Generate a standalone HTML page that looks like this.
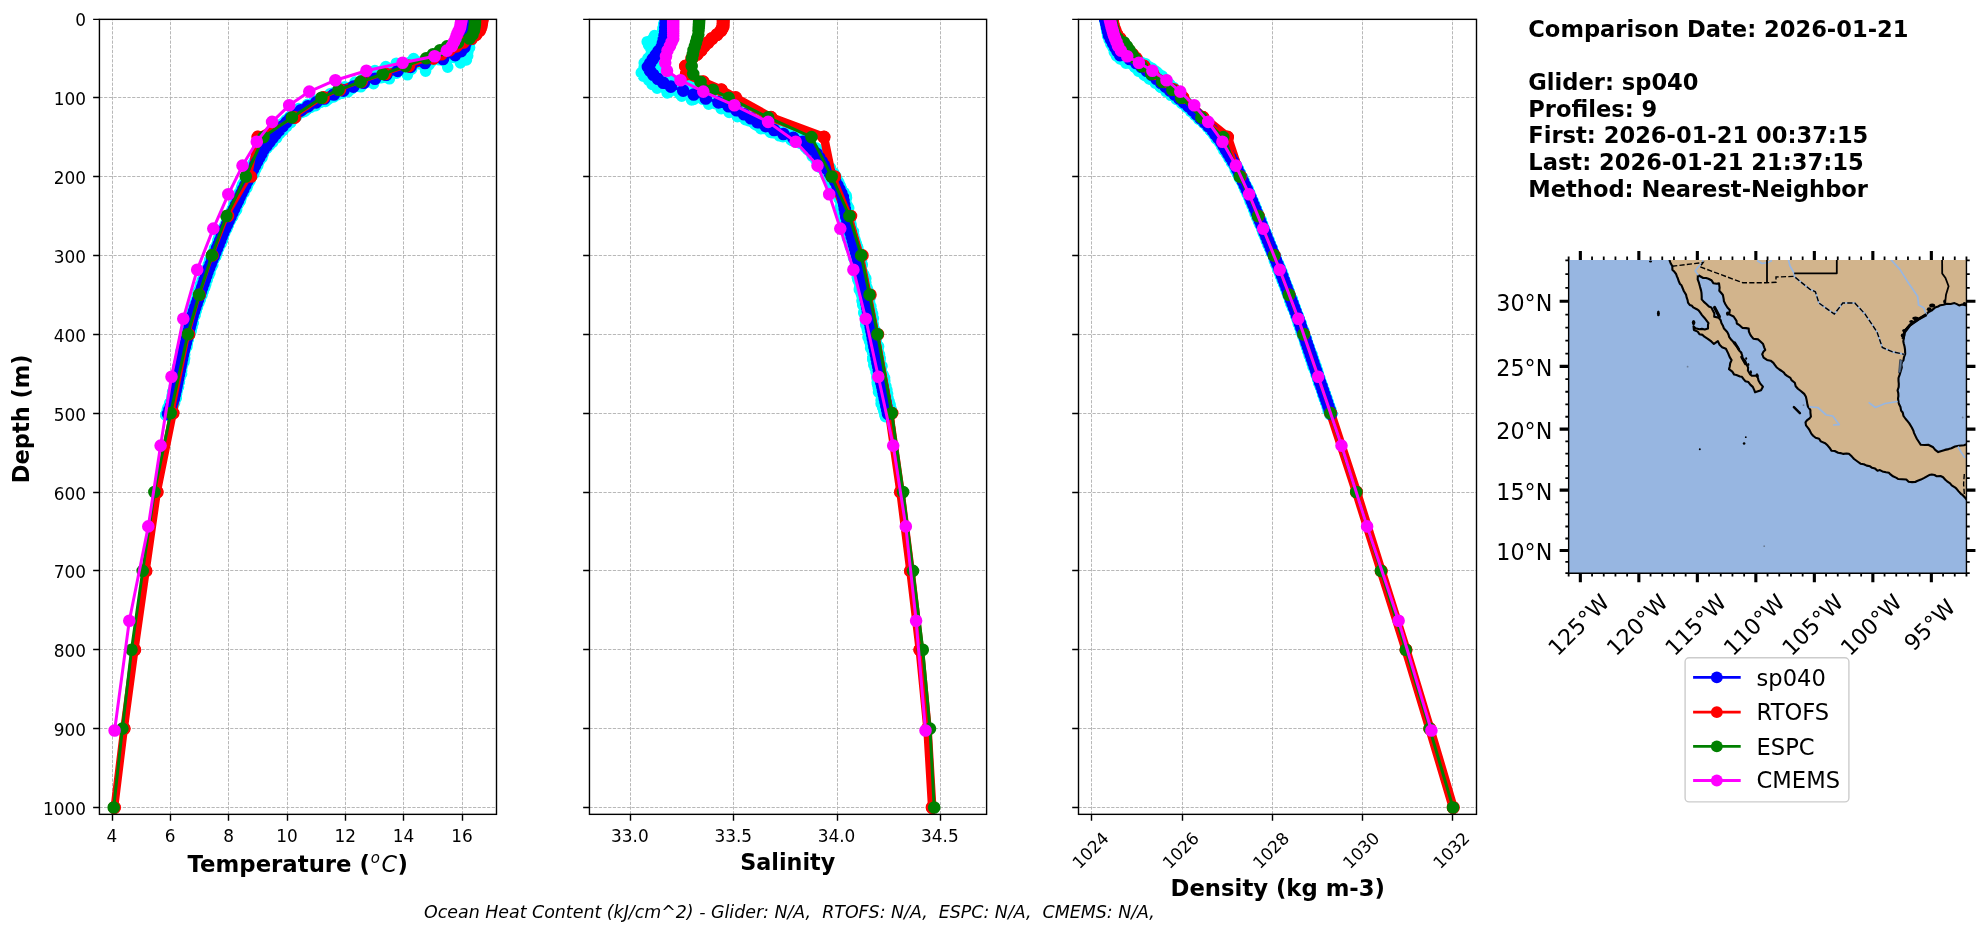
<!DOCTYPE html>
<html lang="en"><head><meta charset="utf-8"><title>Glider vs model comparison</title>
<style>html,body{margin:0;padding:0;background:#fff}svg{display:block;will-change:transform}text{font-family:"DejaVu Sans","Liberation Sans",sans-serif;fill:#000;white-space:pre}</style></head><body>
<svg width="1978" height="934" viewBox="0 0 1978 934">
<rect width="1978" height="934" fill="#fff"/>
<defs>
<clipPath id="c0"><rect x="99.43" y="19.35" width="397.07" height="795.00"/></clipPath>
<clipPath id="c1"><rect x="589.46" y="19.35" width="397.14" height="795.00"/></clipPath>
<clipPath id="c2"><rect x="1078.50" y="19.35" width="398.00" height="795.00"/></clipPath>
<clipPath id="cm"><rect x="1568.7" y="259.9" width="397.75" height="313.1"/></clipPath>
</defs>
<g id="ax0">
<path stroke="#b0b0b0" stroke-width="0.9" stroke-dasharray="3.26 1.41" fill="none" d="M112.50 814.35V19.35M170.50 814.35V19.35M228.50 814.35V19.35M287.50 814.35V19.35M345.50 814.35V19.35M403.50 814.35V19.35M462.50 814.35V19.35M99.43 97.50H496.50M99.43 176.50H496.50M99.43 255.50H496.50M99.43 334.50H496.50M99.43 413.50H496.50M99.43 492.50H496.50M99.43 570.50H496.50M99.43 649.50H496.50M99.43 728.50H496.50M99.43 807.50H496.50"/>
<g clip-path="url(#c0)">
<path fill="none" stroke="#00ffff" stroke-width="11.6" stroke-linecap="round" d="M467.1 19.8h0M466.9 23.8h0M466.1 28.1h0M464.4 32.4h0M463.4 36.4h0M462.3 40.0h0M462.0 45.2h0M459.6 48.2h0M457.5 53.2h0M450.7 56.3h0M439.3 59.8h0M420.7 64.1h0M404.1 67.8h0M392.0 72.8h0M380.7 76.3h0M371.4 80.0h0M360.5 83.4h0M348.9 87.6h0M341.1 91.9h0M330.6 96.1h0M321.5 99.6h0M314.4 104.1h0M304.6 107.9h0M298.4 112.3h0M293.5 115.3h0M289.1 119.0h0M283.8 123.9h0M279.3 127.5h0M275.3 131.7h0M274.0 135.5h0M271.2 139.0h0M267.7 143.4h0M264.3 147.1h0M262.0 151.7h0M258.9 155.2h0M255.7 159.2h0M255.2 163.5h0M253.6 166.4h0M250.6 170.8h0M247.7 174.5h0M246.2 178.0h0M244.1 182.7h0M242.5 186.0h0M241.3 190.6h0M238.8 194.1h0M238.0 198.4h0M236.8 202.3h0M233.9 205.8h0M232.3 210.2h0M231.6 213.4h0M228.4 217.4h0M226.7 221.5h0M225.5 225.3h0M222.6 229.4h0M221.5 233.5h0M221.0 237.5h0M218.6 241.4h0M217.3 244.8h0M216.2 249.4h0M214.5 253.4h0M212.1 257.0h0M210.0 261.1h0M208.3 264.5h0M207.0 268.6h0M205.7 272.4h0M203.7 276.5h0M202.5 280.6h0M201.0 285.0h0M200.7 288.3h0M198.7 292.4h0M197.6 296.1h0M197.1 300.9h0M195.1 304.4h0M193.0 308.0h0M192.1 312.0h0M191.7 315.9h0M189.3 320.6h0M189.2 323.8h0M188.2 327.6h0M187.2 332.4h0M186.8 336.1h0M184.8 339.7h0M183.6 344.1h0M183.3 348.0h0M181.9 351.4h0M181.9 356.1h0M181.2 359.9h0M180.3 363.7h0M178.4 367.5h0M177.9 371.0h0M176.5 375.2h0M176.1 379.5h0M176.5 383.2h0M175.7 387.6h0M174.9 391.0h0M172.8 394.8h0M171.8 398.8h0M171.1 403.3h0M170.0 406.9h0M168.2 411.1h0M165.7 414.9h0"/><path fill="none" stroke="#00ffff" stroke-width="11.6" stroke-linecap="round" d="M467.9 20.4h0M467.4 24.5h0M466.1 29.0h0M465.7 33.3h0M466.5 37.1h0M464.2 42.1h0M464.1 45.1h0M460.3 49.0h0M458.9 54.0h0M447.0 58.0h0M431.3 61.6h0M411.9 65.4h0M397.9 68.5h0M389.7 73.5h0M378.5 77.8h0M368.7 81.7h0M360.5 84.6h0M349.4 88.7h0M340.3 93.1h0M331.2 96.8h0M321.5 101.5h0M314.1 104.7h0M306.7 109.3h0M299.1 113.3h0M293.8 116.7h0M288.8 119.8h0M284.9 124.0h0M279.9 128.9h0M276.8 132.3h0M274.9 136.4h0M270.6 140.3h0M268.3 144.6h0M263.9 148.1h0M261.3 151.6h0M260.7 155.9h0M258.0 160.1h0M256.9 163.6h0M254.0 167.5h0M251.8 171.7h0M249.7 175.4h0M247.8 179.8h0M246.4 183.6h0M245.1 186.7h0M242.4 191.4h0M241.2 194.4h0M237.8 198.6h0M235.9 202.3h0M234.2 206.7h0M233.8 210.8h0M230.8 214.5h0M229.9 217.9h0M228.5 222.6h0M225.5 226.5h0M224.0 230.0h0M223.3 234.3h0M220.2 237.8h0M219.2 241.7h0M217.1 245.6h0M216.5 249.3h0M214.6 253.6h0M212.0 257.5h0M211.5 261.6h0M208.9 266.0h0M208.7 269.9h0M205.9 273.2h0M204.4 277.6h0M203.5 280.9h0M202.4 285.6h0M201.7 289.0h0M199.2 293.5h0M198.6 297.2h0M196.4 300.6h0M196.1 304.9h0M193.6 309.3h0M193.3 313.1h0M191.0 317.1h0M190.0 321.1h0M189.7 324.5h0M188.9 329.0h0M187.4 332.2h0M186.9 336.3h0M185.1 340.1h0M184.0 344.1h0M183.5 348.1h0M183.3 352.1h0M182.0 355.9h0M180.9 359.7h0M179.9 363.7h0M180.0 368.1h0M178.2 372.0h0M178.7 375.6h0M177.7 379.8h0M176.3 384.1h0M175.3 387.8h0M175.1 392.1h0M173.6 395.9h0M173.3 399.7h0M171.3 403.4h0M169.2 407.1h0M167.8 411.6h0M166.6 415.1h0"/><path fill="none" stroke="#00ffff" stroke-width="11.6" stroke-linecap="round" d="M468.1 19.3h0M468.8 23.1h0M467.9 26.5h0M467.7 30.5h0M467.2 34.2h0M467.1 38.7h0M469.0 41.9h0M466.5 46.5h0M464.8 49.5h0M461.7 53.5h0M457.2 57.6h0M444.6 61.5h0M425.9 65.1h0M410.3 69.3h0M395.4 72.6h0M382.4 76.9h0M369.8 81.3h0M358.1 85.4h0M346.8 89.7h0M335.7 92.8h0M327.6 96.5h0M318.5 101.2h0M308.2 105.4h0M303.7 109.1h0M297.7 113.3h0M290.7 116.8h0M288.2 121.2h0M285.5 125.1h0M281.1 129.2h0M277.9 132.8h0M273.5 135.8h0M270.1 140.2h0M266.9 144.9h0M265.1 148.6h0M263.2 152.6h0M260.6 155.7h0M259.3 160.6h0M256.3 164.3h0M254.7 167.7h0M252.9 171.9h0M249.3 175.9h0M248.9 179.8h0M247.0 184.7h0M244.6 188.0h0M242.6 192.3h0M241.3 196.2h0M239.2 199.6h0M236.4 203.8h0M235.7 207.8h0M233.5 211.5h0M230.7 215.7h0M230.0 220.0h0M228.2 223.6h0M226.1 227.7h0M224.2 231.3h0M223.4 235.4h0M222.0 240.0h0M218.6 243.5h0M218.5 247.9h0M216.3 251.2h0M214.2 255.8h0M212.7 259.4h0M211.0 263.3h0M210.9 266.8h0M209.0 271.1h0M207.8 275.2h0M205.3 279.4h0M204.4 282.5h0M202.1 286.9h0M201.6 290.7h0M199.7 294.6h0M198.6 299.0h0M196.7 302.9h0M196.9 306.3h0M195.7 310.7h0M194.4 314.3h0M192.4 318.3h0M192.6 322.5h0M190.4 326.3h0M189.3 329.9h0M188.0 334.5h0M187.3 338.6h0M186.3 341.9h0M185.7 345.8h0M184.5 350.4h0M184.6 354.2h0M183.3 358.3h0M183.1 361.9h0M181.8 365.4h0M181.1 369.7h0M180.3 373.8h0M178.6 377.2h0M179.0 381.2h0M177.4 385.3h0M176.2 389.6h0M176.7 393.1h0M175.1 397.1h0M173.5 401.2h0M171.3 404.9h0M169.9 409.5h0M168.9 412.8h0"/><path fill="none" stroke="#00ffff" stroke-width="11.6" stroke-linecap="round" d="M467.5 19.8h0M466.4 23.3h0M465.3 27.1h0M464.6 31.0h0M463.4 35.1h0M463.0 39.8h0M462.1 43.1h0M457.9 47.2h0M450.8 50.9h0M433.2 54.7h0M413.6 58.5h0M396.3 63.2h0M385.8 66.5h0M374.9 70.5h0M367.7 74.7h0M362.3 79.3h0M355.1 82.0h0M344.8 86.9h0M339.7 90.5h0M330.0 93.8h0M320.5 99.1h0M313.9 102.9h0M306.3 106.0h0M296.6 109.8h0M292.3 114.5h0M288.5 118.5h0M283.9 122.5h0M279.7 126.1h0M274.8 130.4h0M271.8 134.6h0M270.0 137.6h0M265.5 141.5h0M264.0 146.1h0M259.5 149.1h0M258.6 153.8h0M256.1 157.2h0M254.6 160.9h0M251.8 165.4h0M251.6 169.6h0M249.5 173.4h0M246.0 177.0h0M245.8 181.5h0M242.5 184.7h0M241.1 189.4h0M239.1 192.8h0M237.9 197.5h0M235.2 200.5h0M233.7 204.9h0M232.6 208.6h0M231.0 213.0h0M228.7 216.5h0M227.7 220.5h0M225.6 224.4h0M222.7 228.8h0M221.1 232.9h0M219.9 236.2h0M217.8 240.3h0M217.0 244.8h0M214.5 248.2h0M213.0 252.7h0M211.3 255.8h0M209.6 260.0h0M209.5 264.4h0M207.6 268.5h0M206.4 271.8h0M203.7 276.3h0M203.4 279.4h0M201.9 283.7h0M200.0 287.6h0M198.3 291.2h0M197.1 295.5h0M197.0 299.2h0M195.7 303.3h0M193.2 307.8h0M192.7 311.3h0M190.0 315.3h0M189.6 319.7h0M188.3 323.1h0M188.6 326.8h0M186.7 331.4h0M186.4 334.6h0M184.0 338.6h0M184.7 342.7h0M183.4 347.3h0M181.6 350.6h0M181.9 354.9h0M179.8 358.9h0M179.1 362.5h0M177.7 366.8h0M178.6 370.7h0M177.8 374.1h0M175.7 378.4h0M176.2 382.8h0M174.4 386.1h0M173.6 390.3h0M173.7 393.9h0M172.6 398.4h0M171.1 402.4h0M169.3 405.9h0M167.3 409.9h0M166.6 413.6h0"/><path fill="none" stroke="#00ffff" stroke-width="11.6" stroke-linecap="round" d="M468.5 19.8h0M468.5 23.5h0M468.1 27.8h0M468.5 32.2h0M469.8 36.3h0M468.3 39.2h0M467.8 43.7h0M469.6 47.6h0M467.9 51.5h0M467.7 55.8h0M466.4 60.0h0M460.4 62.9h0M447.7 67.1h0M425.6 71.1h0M407.4 74.8h0M389.4 78.8h0M373.5 83.7h0M360.8 86.8h0M347.9 91.8h0M337.6 94.6h0M328.3 99.2h0M320.4 102.3h0M310.6 107.3h0M304.6 111.4h0M296.6 114.4h0M291.7 118.2h0M290.7 122.7h0M286.9 126.3h0M283.0 130.4h0M277.7 134.8h0M276.7 137.8h0M272.5 142.5h0M268.2 146.0h0M264.9 149.7h0M263.1 154.2h0M262.0 157.6h0M258.1 161.7h0M257.7 165.5h0M254.7 169.5h0M253.9 173.8h0M250.1 177.2h0M249.0 181.7h0M247.6 185.1h0M244.6 189.7h0M243.2 193.2h0M241.1 197.9h0M239.2 201.4h0M237.5 205.2h0M236.6 209.7h0M233.7 212.8h0M232.5 216.8h0M229.4 221.4h0M228.3 225.2h0M226.5 229.2h0M224.8 232.5h0M222.4 236.8h0M222.0 241.1h0M219.4 244.8h0M218.3 248.6h0M216.3 252.3h0M215.4 256.9h0M213.1 260.4h0M212.8 264.8h0M210.1 268.0h0M209.9 272.7h0M207.7 275.8h0M207.2 280.0h0M205.8 284.2h0M204.3 287.7h0M202.8 291.7h0M200.8 296.2h0M200.2 299.6h0M197.7 303.7h0M196.9 307.6h0M194.9 311.5h0M194.7 316.0h0M192.4 319.6h0M192.8 323.1h0M191.9 327.1h0M190.5 331.5h0M189.6 335.2h0M188.2 339.4h0M187.2 343.4h0M186.3 347.1h0M184.5 351.2h0M184.5 354.8h0M184.2 359.3h0M182.8 362.7h0M182.0 366.5h0M180.6 370.8h0M179.7 374.7h0M179.7 378.3h0M179.1 382.3h0M178.5 386.9h0M177.2 390.2h0M176.4 394.4h0M176.3 398.1h0M174.6 402.8h0M172.9 406.6h0M170.5 410.7h0M169.6 414.6h0"/><path fill="none" stroke="#00ffff" stroke-width="11.6" stroke-linecap="round" d="M468.3 20.2h0M468.1 24.9h0M466.7 28.9h0M467.5 32.9h0M467.5 37.3h0M466.8 41.4h0M465.2 46.7h0M460.9 49.7h0M453.4 53.7h0M429.9 57.4h0M409.3 62.5h0M395.7 66.4h0M383.0 70.2h0M374.3 73.8h0M368.9 77.4h0M363.5 81.7h0M356.3 86.1h0M347.5 90.2h0M341.8 93.3h0M333.7 97.0h0M325.5 101.4h0M315.6 105.7h0M307.8 108.7h0M301.6 112.5h0M296.4 116.7h0M290.7 121.8h0M286.9 125.2h0M282.4 128.2h0M277.9 132.3h0M276.1 136.7h0M272.8 141.3h0M268.6 144.2h0M267.0 147.8h0M262.1 152.2h0M260.3 156.1h0M258.5 160.3h0M257.4 163.7h0M255.3 167.9h0M252.1 172.4h0M250.4 175.3h0M248.1 179.8h0M248.1 183.8h0M245.1 187.1h0M242.3 191.4h0M241.7 195.0h0M240.0 199.0h0M238.8 203.2h0M235.5 207.2h0M233.3 210.7h0M232.2 214.3h0M229.8 218.7h0M227.8 222.5h0M227.7 226.0h0M224.5 230.4h0M223.3 234.4h0M222.3 237.9h0M219.8 242.0h0M217.8 246.4h0M217.5 250.2h0M214.5 254.3h0M214.3 257.9h0M212.7 261.8h0M210.2 265.4h0M208.6 269.3h0M207.2 273.9h0M206.5 277.9h0M205.2 281.4h0M203.6 285.5h0M202.6 289.5h0M200.3 293.5h0M200.2 297.1h0M198.7 300.8h0M196.3 305.0h0M195.8 309.6h0M194.4 313.0h0M193.4 316.9h0M191.2 321.4h0M191.0 325.1h0M190.0 329.3h0M188.7 333.1h0M188.1 337.1h0M186.7 340.9h0M185.9 344.5h0M184.3 348.7h0M183.0 352.9h0M182.3 356.1h0M181.4 360.8h0M181.0 364.1h0M179.6 367.9h0M180.1 372.4h0M179.2 376.4h0M177.3 380.2h0M177.0 384.4h0M177.0 388.4h0M174.9 392.3h0M175.6 396.3h0M173.2 399.6h0M171.7 403.4h0M171.6 408.0h0M169.7 412.0h0M168.2 415.5h0"/><path fill="none" stroke="#00ffff" stroke-width="11.6" stroke-linecap="round" d="M467.4 18.9h0M467.6 22.6h0M466.6 26.4h0M465.4 29.9h0M465.3 34.1h0M464.8 37.4h0M465.8 41.4h0M464.8 45.5h0M460.4 49.1h0M459.0 53.6h0M453.9 57.4h0M445.0 60.6h0M428.7 64.4h0M411.2 68.5h0M393.2 72.4h0M381.5 77.6h0M365.6 80.8h0M354.8 85.2h0M342.6 88.7h0M333.0 93.1h0M322.8 97.2h0M314.6 100.1h0M307.6 104.4h0M298.7 108.6h0M293.1 112.8h0M289.8 116.7h0M286.0 120.0h0M281.6 124.0h0M279.5 127.5h0M275.9 131.3h0M270.8 135.6h0M269.8 140.0h0M265.2 144.5h0M261.8 147.9h0M260.5 152.3h0M259.0 156.1h0M255.8 159.7h0M253.2 164.3h0M252.6 168.2h0M249.4 171.8h0M248.9 175.9h0M245.5 179.8h0M245.4 183.5h0M242.0 187.5h0M241.3 192.1h0M238.2 195.4h0M236.6 199.5h0M235.4 203.3h0M233.2 207.4h0M232.6 211.9h0M229.2 216.0h0M227.4 219.5h0M227.2 223.8h0M224.9 227.4h0M222.1 231.5h0M220.4 235.1h0M219.3 238.9h0M217.8 243.5h0M216.7 247.2h0M215.0 251.1h0M212.6 255.2h0M211.4 259.2h0M210.8 262.9h0M208.6 267.1h0M206.7 270.6h0M205.9 275.1h0M204.7 278.9h0M203.5 282.8h0M201.7 286.6h0M199.8 290.7h0M198.0 294.4h0M197.9 298.6h0M196.3 302.2h0M194.6 306.3h0M193.6 310.2h0M192.4 314.6h0M190.5 318.3h0M190.6 322.0h0M189.1 326.5h0M187.3 330.0h0M186.5 334.2h0M186.9 337.9h0M184.4 341.9h0M184.2 346.0h0M183.2 349.8h0M182.9 353.7h0M181.3 358.0h0M180.2 361.7h0M179.7 365.7h0M178.4 369.9h0M178.0 373.0h0M177.0 377.2h0M175.8 381.2h0M175.7 385.4h0M174.8 388.9h0M173.7 393.3h0M174.1 397.0h0M171.3 401.2h0M170.1 404.6h0M168.2 409.1h0M167.9 412.9h0"/><path fill="none" stroke="#00ffff" stroke-width="11.6" stroke-linecap="round" d="M468.8 19.4h0M468.6 23.4h0M468.8 27.1h0M469.8 31.1h0M469.1 34.4h0M469.4 37.9h0M470.3 42.1h0M468.7 45.9h0M463.6 49.8h0M452.8 53.7h0M432.2 58.4h0M417.1 61.6h0M404.3 65.9h0M394.0 70.1h0M384.7 73.6h0M375.7 78.3h0M363.5 82.2h0M356.5 86.1h0M345.0 90.1h0M337.1 92.8h0M325.9 98.2h0M319.8 101.1h0M309.9 104.9h0M303.2 109.8h0M298.1 112.8h0M294.6 117.7h0M288.7 121.8h0M286.4 125.5h0M283.0 129.7h0M279.8 133.5h0M274.9 137.2h0M272.8 141.3h0M269.4 145.4h0M266.6 148.5h0M263.5 152.3h0M262.0 156.2h0M259.8 160.2h0M257.7 164.7h0M255.8 169.1h0M252.4 173.0h0M251.5 176.6h0M250.0 180.9h0M247.4 184.4h0M246.8 188.0h0M244.1 192.6h0M240.9 196.5h0M240.4 200.8h0M237.8 204.8h0M236.2 208.3h0M235.1 211.8h0M232.8 216.3h0M230.3 220.5h0M228.5 224.1h0M227.0 228.3h0M224.7 231.9h0M223.5 236.0h0M222.6 239.7h0M221.1 243.7h0M218.9 247.5h0M217.3 252.1h0M216.0 255.9h0M213.8 259.4h0M212.2 263.6h0M211.2 267.7h0M208.6 271.6h0M208.7 275.4h0M205.9 279.1h0M204.4 283.0h0M204.8 287.3h0M202.9 291.4h0M202.0 295.2h0M200.1 299.1h0M198.9 303.0h0M197.5 306.6h0M196.2 310.8h0M195.1 314.4h0M193.0 318.3h0M193.1 323.0h0M191.9 326.5h0M191.2 330.8h0M189.7 334.3h0M188.3 338.4h0M187.3 342.3h0M186.9 346.7h0M184.9 350.3h0M184.0 353.9h0M184.6 358.2h0M184.0 362.1h0M181.5 365.9h0M181.7 370.4h0M181.6 373.9h0M179.8 377.5h0M179.4 381.6h0M177.7 385.3h0M176.6 389.9h0M176.0 394.1h0M175.0 397.9h0M173.6 401.1h0M173.2 405.2h0M171.8 409.1h0M169.1 413.6h0"/><path fill="none" stroke="#00ffff" stroke-width="11.6" stroke-linecap="round" d="M467.2 20.3h0M466.5 24.0h0M465.7 28.6h0M464.5 33.1h0M463.1 37.4h0M463.0 40.3h0M459.6 45.4h0M460.9 48.5h0M455.9 53.4h0M451.4 57.5h0M444.4 60.3h0M428.9 65.0h0M411.7 69.1h0M396.6 73.2h0M384.6 76.9h0M373.4 80.5h0M360.8 85.0h0M351.6 89.0h0M340.2 92.2h0M329.0 97.1h0M321.4 100.9h0M312.0 104.5h0M305.8 108.7h0M297.5 111.9h0M291.5 116.7h0M286.2 120.4h0M283.3 124.6h0M280.2 127.6h0M274.1 131.5h0M271.9 136.0h0M270.0 140.4h0M264.7 144.2h0M264.0 148.1h0M260.3 151.2h0M259.0 155.8h0M256.5 159.9h0M253.5 162.7h0M252.0 167.5h0M249.2 171.3h0M249.1 174.6h0M246.4 179.1h0M244.3 182.4h0M242.0 186.9h0M241.4 190.5h0M238.0 194.8h0M237.7 198.1h0M235.6 202.7h0M234.4 206.2h0M231.8 210.2h0M229.6 213.7h0M227.8 218.1h0M226.3 221.9h0M224.5 225.8h0M222.3 229.3h0M222.0 233.6h0M218.8 237.7h0M218.5 241.3h0M216.6 245.4h0M214.8 249.0h0M212.4 253.8h0M212.3 257.3h0M210.2 261.1h0M209.0 265.2h0M207.7 269.4h0M205.9 273.5h0M203.5 276.6h0M202.1 280.7h0M200.5 284.5h0M200.0 289.2h0M198.5 293.2h0M198.0 296.4h0M196.0 300.6h0M193.8 305.1h0M192.7 308.7h0M192.0 313.0h0M190.8 316.4h0M189.4 320.1h0M189.4 324.8h0M187.0 327.9h0M186.1 332.1h0M186.3 336.6h0M185.2 339.7h0M184.1 344.3h0M182.9 348.5h0M180.8 351.7h0M181.2 356.3h0M180.3 359.7h0M179.3 364.0h0M177.6 367.6h0M177.1 371.4h0M176.7 375.3h0M175.4 379.3h0M175.4 383.1h0M174.7 387.2h0M172.6 391.8h0M172.1 395.8h0M172.4 399.7h0M169.6 403.2h0M168.0 407.6h0M167.9 411.3h0M165.7 414.9h0"/>
<polyline fill="none" stroke="#ff0000" stroke-width="7.80" stroke-linejoin="round" points="482.4,18.8 482.1,20.4 481.8,22.0 481.6,23.5 481.3,25.1 481.0,26.7 480.4,28.3 479.5,30.6 476.0,34.6 471.5,38.5 463.5,42.5 456.5,46.4 449.5,50.3 441.5,54.3 433.5,58.2 409.0,66.1 385.5,74.0 361.5,81.9 340.0,89.8 323.5,97.7 294.6,117.4 258.0,137.1 250.7,176.5 228.0,216.0 212.5,255.4 199.5,294.8 188.8,334.3 173.0,413.1 157.1,492.0 145.9,570.9 134.7,649.8 124.1,728.6 114.4,807.5"/><path fill="none" stroke="#ff0000" stroke-width="13.2" stroke-linecap="round" d="M482.4 18.8h0M482.1 20.4h0M481.8 22.0h0M481.6 23.5h0M481.3 25.1h0M481.0 26.7h0M480.4 28.3h0M479.5 30.6h0M476.0 34.6h0M471.5 38.5h0M463.5 42.5h0M456.5 46.4h0M449.5 50.3h0M441.5 54.3h0M433.5 58.2h0M409.0 66.1h0M385.5 74.0h0M361.5 81.9h0M340.0 89.8h0M323.5 97.7h0M294.6 117.4h0M258.0 137.1h0M250.7 176.5h0M228.0 216.0h0M212.5 255.4h0M199.5 294.8h0M188.8 334.3h0M173.0 413.1h0M157.1 492.0h0M145.9 570.9h0M134.7 649.8h0M124.1 728.6h0M114.4 807.5h0"/>
<polyline fill="none" stroke="#0000ff" stroke-width="2.78" stroke-linejoin="round" points="468.0,19.6 467.7,23.5 467.4,27.5 467.0,31.4 466.7,35.4 466.1,39.3 465.5,43.2 464.4,47.2 461.2,51.1 455.2,55.1 443.0,59.0 425.0,63.0 410.6,66.9 397.7,70.9 386.3,74.8 375.0,78.7 363.9,82.7 353.4,86.6 343.5,90.6 333.9,94.5 324.4,98.5 316.2,102.4 308.0,106.3 300.9,110.3 295.4,114.2 290.3,118.2 286.6,122.1 283.0,126.1 279.3,130.0 275.8,134.0 272.7,137.9 269.6,141.8 266.6,145.8 263.5,149.7 261.4,153.7 259.2,157.6 257.1,161.6 255.0,165.5 253.0,169.4 251.1,173.4 249.1,177.3 247.2,181.3 245.3,185.2 243.4,189.2 241.6,193.1 239.7,197.0 237.9,201.0 236.0,204.9 234.2,208.9 232.4,212.8 230.6,216.8 228.7,220.7 226.9,224.7 225.1,228.6 223.3,232.5 221.7,236.5 220.2,240.4 218.6,244.4 217.0,248.3 215.4,252.3 213.8,256.2 212.2,260.1 210.7,264.1 209.1,268.0 207.5,272.0 206.2,275.9 204.8,279.9 203.5,283.8 202.1,287.7 200.8,291.7 199.4,295.6 198.0,299.6 196.7,303.5 195.3,307.5 194.0,311.4 192.7,315.4 191.7,319.3 190.7,323.2 189.7,327.2 188.7,331.1 187.8,335.1 186.8,339.0 185.8,343.0 184.8,346.9 183.8,350.8 182.9,354.8 182.1,358.7 181.3,362.7 180.5,366.6 179.7,370.6 178.9,374.5 178.1,378.4 177.3,382.4 176.5,386.3 175.7,390.3 174.8,394.2 173.9,398.2 172.4,402.1 171.0,406.1 169.5,410.0 168.0,413.9"/><path fill="none" stroke="#0000ff" stroke-width="12.6" stroke-linecap="round" d="M468.0 19.6h0M467.7 23.5h0M467.4 27.5h0M467.0 31.4h0M466.7 35.4h0M466.1 39.3h0M465.5 43.2h0M464.4 47.2h0M461.2 51.1h0M455.2 55.1h0M443.0 59.0h0M425.0 63.0h0M410.6 66.9h0M397.7 70.9h0M386.3 74.8h0M375.0 78.7h0M363.9 82.7h0M353.4 86.6h0M343.5 90.6h0M333.9 94.5h0M324.4 98.5h0M316.2 102.4h0M308.0 106.3h0M300.9 110.3h0M295.4 114.2h0M290.3 118.2h0M286.6 122.1h0M283.0 126.1h0M279.3 130.0h0M275.8 134.0h0M272.7 137.9h0M269.6 141.8h0M266.6 145.8h0M263.5 149.7h0M261.4 153.7h0M259.2 157.6h0M257.1 161.6h0M255.0 165.5h0M253.0 169.4h0M251.1 173.4h0M249.1 177.3h0M247.2 181.3h0M245.3 185.2h0M243.4 189.2h0M241.6 193.1h0M239.7 197.0h0M237.9 201.0h0M236.0 204.9h0M234.2 208.9h0M232.4 212.8h0M230.6 216.8h0M228.7 220.7h0M226.9 224.7h0M225.1 228.6h0M223.3 232.5h0M221.7 236.5h0M220.2 240.4h0M218.6 244.4h0M217.0 248.3h0M215.4 252.3h0M213.8 256.2h0M212.2 260.1h0M210.7 264.1h0M209.1 268.0h0M207.5 272.0h0M206.2 275.9h0M204.8 279.9h0M203.5 283.8h0M202.1 287.7h0M200.8 291.7h0M199.4 295.6h0M198.0 299.6h0M196.7 303.5h0M195.3 307.5h0M194.0 311.4h0M192.7 315.4h0M191.7 319.3h0M190.7 323.2h0M189.7 327.2h0M188.7 331.1h0M187.8 335.1h0M186.8 339.0h0M185.8 343.0h0M184.8 346.9h0M183.8 350.8h0M182.9 354.8h0M182.1 358.7h0M181.3 362.7h0M180.5 366.6h0M179.7 370.6h0M178.9 374.5h0M178.1 378.4h0M177.3 382.4h0M176.5 386.3h0M175.7 390.3h0M174.8 394.2h0M173.9 398.2h0M172.4 402.1h0M171.0 406.1h0M169.5 410.0h0M168.0 413.9h0"/>
<polyline fill="none" stroke="#ff0000" stroke-width="2.78" stroke-linejoin="round" points="482.4,18.8 482.1,20.4 481.8,22.0 481.6,23.5 481.3,25.1 481.0,26.7 480.4,28.3 479.5,30.6 476.0,34.6 471.5,38.5 463.5,42.5 456.5,46.4 449.5,50.3 441.5,54.3 433.5,58.2 409.0,66.1 385.5,74.0 361.5,81.9 340.0,89.8 323.5,97.7 294.6,117.4 258.0,137.1 250.7,176.5 228.0,216.0 212.5,255.4 199.5,294.8 188.8,334.3 173.0,413.1 157.1,492.0 145.9,570.9 134.7,649.8 124.1,728.6 114.4,807.5"/><path fill="none" stroke="#ff0000" stroke-width="12.6" stroke-linecap="round" d="M482.4 18.8h0M482.1 20.4h0M481.8 22.0h0M481.6 23.5h0M481.3 25.1h0M481.0 26.7h0M480.4 28.3h0M479.5 30.6h0M476.0 34.6h0M471.5 38.5h0M463.5 42.5h0M456.5 46.4h0M449.5 50.3h0M441.5 54.3h0M433.5 58.2h0M409.0 66.1h0M385.5 74.0h0M361.5 81.9h0M340.0 89.8h0M323.5 97.7h0M294.6 117.4h0M258.0 137.1h0M250.7 176.5h0M228.0 216.0h0M212.5 255.4h0M199.5 294.8h0M188.8 334.3h0M173.0 413.1h0M157.1 492.0h0M145.9 570.9h0M134.7 649.8h0M124.1 728.6h0M114.4 807.5h0"/>
<polyline fill="none" stroke="#008000" stroke-width="3.00" stroke-linejoin="round" points="475.1,18.8 475.0,20.4 475.0,22.0 474.9,23.5 474.8,25.1 474.6,26.7 474.3,28.3 473.9,30.6 472.5,34.6 469.4,38.5 458.0,42.5 447.0,46.4 440.0,50.3 433.0,54.3 426.2,58.2 405.6,66.1 382.8,74.0 360.5,81.9 338.5,89.8 321.4,97.7 291.9,117.4 263.5,137.1 245.8,176.5 226.4,216.0 211.9,255.4 199.1,294.8 187.8,334.3 170.7,413.1 154.4,492.0 142.7,570.9 131.5,649.8 122.4,728.6 113.7,807.5"/><path fill="none" stroke="#008000" stroke-width="12.6" stroke-linecap="round" d="M475.1 18.8h0M475.0 20.4h0M475.0 22.0h0M474.9 23.5h0M474.8 25.1h0M474.6 26.7h0M474.3 28.3h0M473.9 30.6h0M472.5 34.6h0M469.4 38.5h0M458.0 42.5h0M447.0 46.4h0M440.0 50.3h0M433.0 54.3h0M426.2 58.2h0M405.6 66.1h0M382.8 74.0h0M360.5 81.9h0M338.5 89.8h0M321.4 97.7h0M291.9 117.4h0M263.5 137.1h0M245.8 176.5h0M226.4 216.0h0M211.9 255.4h0M199.1 294.8h0M187.8 334.3h0M170.7 413.1h0M154.4 492.0h0M142.7 570.9h0M131.5 649.8h0M122.4 728.6h0M113.7 807.5h0"/>
<polyline fill="none" stroke="#ff00ff" stroke-width="3.00" stroke-linejoin="round" points="461.7,19.2 461.5,20.0 461.4,20.9 461.2,21.8 461.0,22.8 460.8,23.9 460.6,25.1 460.4,26.3 460.1,27.8 459.4,29.4 458.5,31.3 457.4,33.4 456.5,35.8 455.5,38.7 454.0,42.0 452.0,46.0 446.8,50.6 434.6,56.2 402.6,62.8 366.4,70.7 335.4,80.2 309.3,91.6 289.2,105.3 272.1,121.9 256.8,141.7 242.5,165.6 228.3,194.3 213.3,228.6 197.2,269.7 183.3,318.7 171.5,376.8 160.6,445.6 148.3,526.4 129.3,620.8 114.6,730.5"/><path fill="none" stroke="#ff00ff" stroke-width="12.6" stroke-linecap="round" d="M461.7 19.2h0M461.5 20.0h0M461.4 20.9h0M461.2 21.8h0M461.0 22.8h0M460.8 23.9h0M460.6 25.1h0M460.4 26.3h0M460.1 27.8h0M459.4 29.4h0M458.5 31.3h0M457.4 33.4h0M456.5 35.8h0M455.5 38.7h0M454.0 42.0h0M452.0 46.0h0M446.8 50.6h0M434.6 56.2h0M402.6 62.8h0M366.4 70.7h0M335.4 80.2h0M309.3 91.6h0M289.2 105.3h0M272.1 121.9h0M256.8 141.7h0M242.5 165.6h0M228.3 194.3h0M213.3 228.6h0M197.2 269.7h0M183.3 318.7h0M171.5 376.8h0M160.6 445.6h0M148.3 526.4h0M129.3 620.8h0M114.6 730.5h0"/>
</g>
<rect x="99.43" y="19.35" width="397.07" height="795.00" fill="none" stroke="#000" stroke-width="1.4"/>
<path stroke="#000" stroke-width="1.4" fill="none" d="M112.50 814.35v6.3M170.50 814.35v6.3M228.50 814.35v6.3M287.50 814.35v6.3M345.50 814.35v6.3M403.50 814.35v6.3M462.50 814.35v6.3M99.43 19.35h-6.3M99.43 97.50h-6.3M99.43 176.50h-6.3M99.43 255.50h-6.3M99.43 334.50h-6.3M99.43 413.50h-6.3M99.43 492.50h-6.3M99.43 570.50h-6.3M99.43 649.50h-6.3M99.43 728.50h-6.3M99.43 807.50h-6.3"/>
<text x="111.8" y="841.8" font-size="16.9" text-anchor="middle">4</text>
<text x="170.2" y="841.8" font-size="16.9" text-anchor="middle">6</text>
<text x="228.5" y="841.8" font-size="16.9" text-anchor="middle">8</text>
<text x="286.9" y="841.8" font-size="16.9" text-anchor="middle">10</text>
<text x="345.2" y="841.8" font-size="16.9" text-anchor="middle">12</text>
<text x="403.6" y="841.8" font-size="16.9" text-anchor="middle">14</text>
<text x="462.0" y="841.8" font-size="16.9" text-anchor="middle">16</text>
<text x="85.9" y="26.3" font-size="16.9" text-anchor="end">0</text>
<text x="85.9" y="105.2" font-size="16.9" text-anchor="end">100</text>
<text x="85.9" y="184.0" font-size="16.9" text-anchor="end">200</text>
<text x="85.9" y="262.9" font-size="16.9" text-anchor="end">300</text>
<text x="85.9" y="341.8" font-size="16.9" text-anchor="end">400</text>
<text x="85.9" y="420.6" font-size="16.9" text-anchor="end">500</text>
<text x="85.9" y="499.5" font-size="16.9" text-anchor="end">600</text>
<text x="85.9" y="578.4" font-size="16.9" text-anchor="end">700</text>
<text x="85.9" y="657.3" font-size="16.9" text-anchor="end">800</text>
<text x="85.9" y="736.1" font-size="16.9" text-anchor="end">900</text>
<text x="85.9" y="815.0" font-size="16.9" text-anchor="end">1000</text>
</g>
<g id="ax1">
<path stroke="#b0b0b0" stroke-width="0.9" stroke-dasharray="3.26 1.41" fill="none" d="M630.50 814.35V19.35M733.50 814.35V19.35M837.50 814.35V19.35M940.50 814.35V19.35M589.46 97.50H986.60M589.46 176.50H986.60M589.46 255.50H986.60M589.46 334.50H986.60M589.46 413.50H986.60M589.46 492.50H986.60M589.46 570.50H986.60M589.46 649.50H986.60M589.46 728.50H986.60M589.46 807.50H986.60"/>
<g clip-path="url(#c1)">
<path fill="none" stroke="#00ffff" stroke-width="11.6" stroke-linecap="round" d="M665.3 20.0h0M664.6 23.9h0M663.5 27.9h0M663.8 32.4h0M661.6 36.9h0M660.8 40.5h0M659.2 44.3h0M659.9 48.4h0M654.7 52.5h0M652.1 57.1h0M648.5 61.2h0M645.4 65.0h0M644.4 67.9h0M645.7 72.0h0M647.7 75.8h0M652.2 80.9h0M659.3 84.8h0M664.3 87.7h0M679.0 91.3h0M689.4 95.6h0M702.6 99.1h0M715.2 103.6h0M723.7 107.0h0M734.2 111.8h0M740.0 115.6h0M749.3 119.2h0M754.7 123.0h0M761.9 127.9h0M772.0 131.0h0M779.5 134.7h0M791.0 139.3h0M799.7 142.8h0M805.7 147.5h0M811.2 151.3h0M813.3 154.4h0M817.5 158.9h0M820.2 162.3h0M823.1 166.6h0M825.8 171.3h0M827.4 174.0h0M831.3 178.6h0M833.8 182.3h0M834.1 187.0h0M836.6 190.0h0M838.6 194.6h0M839.0 198.4h0M840.9 202.3h0M840.7 206.5h0M843.3 210.7h0M842.6 214.4h0M843.5 218.4h0M843.8 222.5h0M847.3 225.9h0M847.2 229.9h0M848.4 233.2h0M850.6 237.4h0M849.6 241.2h0M850.9 246.1h0M851.4 249.0h0M854.3 253.1h0M853.5 257.6h0M855.8 261.5h0M857.0 264.8h0M858.2 269.6h0M856.8 272.7h0M858.8 277.2h0M859.0 280.6h0M860.2 284.6h0M861.5 289.5h0M861.0 293.1h0M863.5 296.5h0M864.4 301.5h0M863.9 304.7h0M865.8 308.8h0M865.3 313.3h0M867.0 316.4h0M866.3 320.4h0M867.5 325.2h0M869.2 329.0h0M870.0 332.9h0M868.6 336.4h0M871.8 340.9h0M870.6 344.1h0M872.4 348.0h0M872.9 351.5h0M873.4 356.1h0M873.0 359.5h0M876.4 364.3h0M877.0 368.1h0M877.4 372.4h0M878.4 375.1h0M878.5 379.4h0M879.5 383.4h0M879.9 388.2h0M881.0 391.2h0M881.5 395.4h0M883.5 399.2h0M882.6 403.6h0M882.9 407.5h0M886.1 411.3h0M885.0 415.2h0"/><path fill="none" stroke="#00ffff" stroke-width="11.6" stroke-linecap="round" d="M665.3 20.1h0M664.4 24.3h0M664.1 28.6h0M663.6 32.7h0M662.3 37.3h0M663.3 41.6h0M661.5 45.9h0M659.0 49.9h0M656.5 53.6h0M654.0 57.4h0M650.0 61.0h0M646.8 65.4h0M645.4 69.4h0M647.2 73.0h0M653.7 76.8h0M657.7 81.1h0M663.4 85.8h0M674.5 89.4h0M685.8 92.3h0M697.7 96.8h0M707.8 100.7h0M719.8 105.1h0M727.6 108.3h0M737.4 113.0h0M742.0 116.4h0M749.2 120.8h0M756.2 125.0h0M765.1 128.5h0M773.3 132.8h0M782.7 136.3h0M792.6 140.6h0M802.7 143.6h0M807.5 147.4h0M812.1 152.2h0M815.2 156.7h0M818.1 159.8h0M821.4 164.4h0M823.5 167.6h0M825.7 171.7h0M829.1 175.4h0M830.8 179.7h0M833.4 183.3h0M836.8 187.9h0M837.9 191.3h0M839.0 195.0h0M840.4 199.3h0M842.3 202.6h0M843.9 206.9h0M844.3 211.5h0M845.3 214.6h0M844.6 219.5h0M844.6 222.2h0M847.2 226.8h0M849.3 231.1h0M849.3 235.4h0M850.4 238.6h0M851.9 242.4h0M852.1 246.6h0M853.2 251.1h0M855.2 254.4h0M854.7 258.2h0M856.3 262.4h0M857.6 266.7h0M859.4 270.1h0M858.8 274.3h0M861.1 277.8h0M860.6 282.4h0M860.4 285.7h0M863.5 290.3h0M863.0 293.3h0M864.8 298.0h0M865.3 302.4h0M866.2 305.5h0M864.9 309.3h0M866.6 313.6h0M866.4 317.1h0M868.3 321.6h0M868.2 326.1h0M869.7 328.7h0M869.8 333.7h0M870.2 337.5h0M870.1 340.9h0M873.2 345.2h0M873.5 348.6h0M873.8 353.1h0M873.9 357.1h0M875.4 361.5h0M876.2 364.7h0M875.7 368.3h0M878.2 372.2h0M877.2 376.2h0M879.2 381.0h0M880.2 384.9h0M879.6 387.8h0M882.3 392.2h0M883.0 396.2h0M882.4 400.0h0M883.0 404.8h0M885.1 408.0h0M885.6 412.0h0M885.4 416.6h0"/><path fill="none" stroke="#00ffff" stroke-width="11.6" stroke-linecap="round" d="M666.2 19.4h0M666.0 23.0h0M665.7 26.4h0M666.9 30.8h0M665.3 34.7h0M666.1 37.8h0M664.9 42.5h0M663.3 46.5h0M659.8 49.5h0M658.6 53.2h0M654.9 58.2h0M653.3 62.0h0M650.6 65.0h0M650.6 69.0h0M655.2 73.1h0M657.2 76.7h0M661.4 81.1h0M666.4 84.5h0M673.8 89.6h0M688.1 92.7h0M698.6 96.7h0M713.6 100.3h0M727.5 104.7h0M735.5 109.2h0M743.4 112.5h0M753.0 116.2h0M758.4 121.2h0M767.8 124.1h0M775.1 128.9h0M784.6 133.2h0M794.0 137.2h0M804.6 140.0h0M809.3 143.8h0M815.0 148.0h0M819.5 152.4h0M820.5 155.8h0M823.9 159.8h0M827.3 163.6h0M828.9 168.1h0M830.8 172.4h0M833.7 176.2h0M836.9 179.7h0M838.6 183.3h0M839.9 188.3h0M842.3 192.0h0M843.2 195.8h0M844.5 199.7h0M845.0 203.0h0M845.7 207.2h0M845.9 211.8h0M847.0 215.3h0M849.8 219.8h0M850.9 223.9h0M849.9 227.0h0M850.7 231.5h0M853.6 235.0h0M854.0 239.4h0M855.9 242.7h0M857.4 246.8h0M857.9 250.5h0M857.5 255.5h0M860.0 259.2h0M858.9 262.2h0M860.0 266.3h0M861.2 270.5h0M861.3 274.4h0M863.7 278.1h0M865.1 282.6h0M865.6 286.1h0M865.6 290.7h0M866.1 293.7h0M868.2 298.7h0M867.4 301.6h0M869.6 306.3h0M868.1 309.8h0M869.0 314.5h0M870.0 318.6h0M872.1 321.4h0M872.7 325.8h0M873.5 330.3h0M873.0 333.2h0M875.5 337.6h0M876.2 341.9h0M876.5 346.1h0M876.9 349.5h0M876.1 353.8h0M877.9 357.5h0M880.0 360.9h0M880.3 364.7h0M880.9 369.7h0M880.5 373.3h0M883.2 377.4h0M882.9 380.8h0M882.4 384.9h0M884.2 388.6h0M884.7 392.4h0M886.6 397.1h0M886.2 400.5h0M887.8 404.7h0M889.8 408.5h0M888.9 413.2h0"/><path fill="none" stroke="#00ffff" stroke-width="11.6" stroke-linecap="round" d="M664.5 19.6h0M664.0 23.7h0M663.7 27.7h0M662.4 31.6h0M662.3 35.3h0M661.6 39.8h0M658.5 42.9h0M657.8 46.7h0M653.3 50.8h0M650.5 55.4h0M647.9 58.4h0M644.2 62.9h0M644.3 66.4h0M646.7 70.1h0M654.6 75.2h0M658.3 79.1h0M672.4 82.8h0M682.1 86.6h0M692.7 90.1h0M704.9 93.8h0M716.0 98.7h0M723.1 103.1h0M730.0 106.0h0M735.3 109.7h0M741.1 114.6h0M749.6 117.9h0M753.7 122.3h0M763.9 126.7h0M770.1 130.4h0M781.4 134.3h0M789.7 137.4h0M800.9 141.6h0M804.4 145.9h0M809.4 150.2h0M812.9 153.0h0M816.5 157.8h0M819.9 161.9h0M822.9 166.2h0M824.3 169.4h0M826.0 173.1h0M829.8 176.7h0M832.8 180.8h0M834.3 185.9h0M835.3 188.5h0M838.3 192.7h0M840.6 196.3h0M841.6 201.5h0M842.1 204.8h0M841.4 209.1h0M842.7 212.7h0M843.0 216.7h0M845.0 221.2h0M846.7 224.2h0M846.1 228.5h0M848.0 232.3h0M848.1 235.9h0M849.5 240.4h0M852.4 244.9h0M853.2 249.0h0M854.6 252.4h0M855.2 255.6h0M855.6 260.3h0M855.4 264.2h0M858.0 268.0h0M857.9 271.7h0M857.9 276.4h0M857.8 279.4h0M860.4 283.7h0M859.6 288.0h0M861.2 291.8h0M862.1 295.7h0M863.2 299.4h0M862.7 303.1h0M865.5 307.5h0M864.1 311.9h0M865.1 314.8h0M866.6 319.0h0M867.2 323.3h0M867.2 327.3h0M867.6 331.1h0M869.6 334.5h0M869.8 338.4h0M870.7 343.5h0M871.7 347.2h0M873.1 350.3h0M874.4 355.1h0M872.8 359.2h0M874.3 362.2h0M876.6 366.7h0M876.9 370.1h0M877.6 373.9h0M877.0 378.3h0M877.2 382.5h0M878.6 386.1h0M880.7 390.2h0M882.1 394.4h0M882.9 398.3h0M883.8 402.6h0M882.6 406.4h0M883.9 410.4h0M885.7 414.4h0"/><path fill="none" stroke="#00ffff" stroke-width="11.6" stroke-linecap="round" d="M666.1 19.7h0M666.8 24.0h0M667.0 27.4h0M667.0 31.3h0M666.6 36.1h0M665.1 40.3h0M666.2 43.4h0M663.5 47.6h0M663.0 51.7h0M658.3 54.8h0M656.2 60.0h0M654.7 63.5h0M653.5 67.7h0M652.4 70.8h0M654.7 75.3h0M656.7 79.7h0M660.6 82.4h0M663.1 86.6h0M669.5 91.6h0M680.6 94.3h0M693.7 99.4h0M709.3 102.7h0M724.5 106.3h0M736.8 110.6h0M745.7 114.9h0M751.2 118.4h0M758.4 123.2h0M768.0 125.8h0M775.4 130.3h0M785.8 134.5h0M795.5 138.1h0M804.1 142.4h0M810.0 145.5h0M815.3 150.9h0M818.0 153.6h0M822.5 157.7h0M823.9 162.0h0M826.5 166.1h0M829.9 170.6h0M833.9 173.2h0M835.2 178.2h0M838.7 182.1h0M840.3 185.9h0M841.4 189.3h0M844.6 194.1h0M846.5 197.7h0M845.3 201.8h0M847.2 205.4h0M847.6 209.1h0M848.0 213.1h0M847.4 217.0h0M849.2 221.8h0M850.7 224.9h0M851.2 228.7h0M852.6 232.5h0M852.7 237.4h0M855.0 240.8h0M856.5 244.5h0M856.5 248.1h0M857.9 252.4h0M860.1 256.7h0M861.5 260.4h0M862.3 264.6h0M860.8 268.0h0M862.9 273.1h0M863.1 276.7h0M864.1 280.8h0M863.9 284.2h0M867.0 287.9h0M866.0 291.5h0M866.6 295.7h0M868.8 299.6h0M868.6 303.5h0M869.9 308.4h0M870.7 311.4h0M871.6 316.4h0M872.0 319.1h0M873.2 324.2h0M872.7 327.1h0M872.9 331.6h0M875.5 335.7h0M876.4 339.0h0M875.5 343.7h0M877.2 347.2h0M878.0 351.0h0M877.1 355.1h0M877.8 359.3h0M879.3 363.1h0M880.8 366.7h0M881.2 370.3h0M883.2 375.0h0M884.2 378.3h0M884.0 383.1h0M884.1 386.2h0M884.4 390.2h0M886.9 394.1h0M887.9 398.5h0M888.0 402.7h0M888.8 406.7h0M889.8 410.2h0M891.0 414.0h0"/><path fill="none" stroke="#00ffff" stroke-width="11.6" stroke-linecap="round" d="M665.9 20.5h0M665.8 24.6h0M665.7 29.4h0M665.0 33.1h0M664.5 38.1h0M662.7 41.2h0M662.8 46.3h0M662.3 49.8h0M659.4 53.6h0M655.6 57.3h0M650.2 61.3h0M647.1 65.8h0M650.5 69.3h0M656.5 73.5h0M660.6 77.2h0M671.9 82.2h0M684.7 84.8h0M696.9 89.1h0M709.2 93.4h0M717.9 97.1h0M725.8 101.2h0M730.6 105.9h0M735.0 109.6h0M740.3 113.4h0M746.9 117.6h0M751.3 121.1h0M758.1 125.6h0M767.6 129.1h0M773.6 132.5h0M782.9 136.7h0M792.6 140.3h0M803.8 144.9h0M807.3 149.3h0M812.0 152.6h0M815.7 157.0h0M820.5 160.0h0M822.8 164.8h0M824.0 168.0h0M827.3 172.7h0M829.0 176.4h0M832.9 180.0h0M835.4 184.5h0M836.6 188.4h0M839.0 192.2h0M842.4 195.3h0M843.9 200.4h0M842.9 202.9h0M843.1 208.2h0M843.5 212.0h0M844.5 215.7h0M845.1 218.9h0M847.8 222.7h0M848.0 227.8h0M850.1 231.7h0M851.9 234.5h0M851.0 239.4h0M853.3 242.4h0M853.9 246.6h0M854.8 250.3h0M854.8 255.5h0M856.7 259.3h0M856.9 262.7h0M857.8 266.6h0M858.7 270.8h0M859.4 274.9h0M861.2 278.0h0M861.6 282.4h0M863.9 286.2h0M862.8 291.0h0M865.4 294.6h0M864.5 297.8h0M865.2 301.6h0M865.3 306.1h0M867.0 310.1h0M867.6 313.3h0M869.2 318.1h0M869.5 321.9h0M870.6 326.5h0M871.8 330.0h0M871.2 333.4h0M871.9 338.3h0M872.6 341.4h0M873.4 345.0h0M875.8 348.8h0M875.5 354.0h0M875.3 357.5h0M876.3 360.9h0M876.6 364.7h0M879.1 369.6h0M880.1 372.5h0M880.2 376.8h0M880.9 381.1h0M880.8 385.6h0M880.8 389.2h0M884.0 392.9h0M884.1 397.5h0M883.9 400.9h0M886.2 404.5h0M886.9 408.5h0M887.2 412.7h0M888.5 416.3h0"/><path fill="none" stroke="#00ffff" stroke-width="11.6" stroke-linecap="round" d="M665.5 19.1h0M664.7 22.8h0M664.3 26.8h0M664.3 30.4h0M663.7 33.9h0M662.1 37.1h0M663.2 41.4h0M660.6 45.3h0M658.7 48.8h0M654.0 53.7h0M652.3 57.3h0M651.0 61.7h0M648.9 64.3h0M645.7 69.5h0M649.2 72.3h0M649.5 76.5h0M653.3 80.6h0M660.3 84.8h0M666.5 88.0h0M679.5 93.4h0M693.2 96.5h0M707.8 101.0h0M722.7 103.9h0M732.9 108.2h0M741.1 111.9h0M748.4 116.0h0M755.3 119.5h0M763.2 124.3h0M771.4 127.6h0M782.9 131.7h0M791.7 135.6h0M803.0 139.3h0M807.3 144.4h0M810.9 147.7h0M816.6 152.0h0M818.0 155.1h0M820.9 159.5h0M824.3 163.4h0M826.0 167.8h0M829.9 171.4h0M831.3 175.6h0M835.4 179.0h0M837.8 183.7h0M838.0 187.6h0M839.9 190.7h0M842.6 195.1h0M842.6 199.2h0M844.3 203.6h0M842.6 207.3h0M844.4 211.1h0M846.2 214.9h0M846.3 219.5h0M847.3 222.9h0M848.6 227.3h0M850.1 231.2h0M850.5 234.1h0M852.4 238.8h0M853.7 243.0h0M853.0 246.2h0M854.0 251.0h0M855.1 253.9h0M857.7 258.5h0M856.6 262.6h0M859.2 266.3h0M858.2 270.5h0M860.0 274.3h0M862.4 278.6h0M862.8 281.6h0M862.2 286.1h0M862.1 290.6h0M863.6 293.6h0M864.4 297.5h0M866.6 301.9h0M866.3 305.6h0M865.8 309.4h0M868.7 314.1h0M869.4 317.3h0M868.3 320.9h0M869.9 325.3h0M870.4 329.4h0M871.4 333.2h0M872.8 336.9h0M873.9 341.3h0M872.2 344.9h0M874.3 349.0h0M875.2 352.8h0M875.1 357.4h0M875.9 361.3h0M878.1 365.0h0M877.9 369.4h0M878.6 373.3h0M878.3 376.6h0M880.8 380.1h0M882.2 384.0h0M882.3 388.1h0M884.0 392.6h0M884.5 396.5h0M885.0 400.6h0M884.8 403.9h0M887.2 407.8h0M888.2 411.8h0"/><path fill="none" stroke="#00ffff" stroke-width="11.6" stroke-linecap="round" d="M666.2 19.2h0M667.1 23.4h0M666.8 27.1h0M666.6 31.2h0M667.4 34.2h0M665.4 38.7h0M664.7 42.8h0M664.2 45.8h0M661.9 49.9h0M659.1 53.6h0M657.5 57.8h0M654.9 61.5h0M654.3 66.7h0M656.8 69.2h0M662.1 74.1h0M667.8 77.9h0M675.6 81.7h0M689.9 85.6h0M699.9 89.0h0M710.4 93.0h0M721.6 98.3h0M730.7 101.5h0M736.0 105.2h0M743.7 109.3h0M750.5 112.7h0M755.1 117.8h0M761.4 121.2h0M767.9 124.6h0M776.7 129.7h0M787.7 132.6h0M797.8 136.2h0M806.4 141.6h0M810.6 145.5h0M816.4 148.1h0M819.3 152.7h0M821.7 157.0h0M824.1 161.1h0M827.1 164.0h0M830.5 167.9h0M833.1 172.9h0M835.8 176.4h0M836.8 180.4h0M839.2 184.5h0M841.3 188.4h0M843.8 192.0h0M846.2 195.7h0M845.5 200.7h0M846.6 204.5h0M848.7 208.0h0M847.3 211.4h0M850.1 215.4h0M850.1 219.9h0M850.2 223.8h0M851.4 227.8h0M853.5 231.5h0M853.7 235.5h0M854.8 239.1h0M856.0 244.0h0M857.8 248.0h0M857.6 252.0h0M859.9 255.7h0M861.0 259.5h0M860.8 263.6h0M861.4 266.9h0M861.9 271.0h0M864.0 274.8h0M865.8 278.4h0M865.8 282.6h0M866.6 287.3h0M867.8 290.2h0M867.3 294.9h0M870.0 298.1h0M869.7 302.9h0M870.9 306.4h0M871.6 310.5h0M872.6 313.8h0M873.4 318.3h0M872.6 321.8h0M872.9 326.6h0M874.8 329.8h0M874.5 333.7h0M874.9 337.8h0M876.0 342.8h0M878.6 346.4h0M877.9 350.0h0M879.5 354.5h0M880.2 358.1h0M879.4 362.0h0M882.0 366.2h0M880.6 370.0h0M882.1 373.2h0M884.6 377.8h0M884.8 381.0h0M885.9 386.1h0M886.9 389.8h0M887.6 393.8h0M887.7 397.2h0M889.2 401.6h0M890.2 404.9h0M891.2 409.2h0M892.0 412.6h0"/><path fill="none" stroke="#00ffff" stroke-width="11.6" stroke-linecap="round" d="M665.1 20.2h0M663.7 24.5h0M662.9 28.2h0M662.6 32.4h0M661.6 37.3h0M660.9 41.3h0M658.9 45.6h0M658.7 49.4h0M656.1 53.5h0M651.4 56.4h0M649.2 61.4h0M645.4 65.0h0M644.1 69.3h0M641.3 72.7h0M643.3 76.1h0M648.9 80.5h0M652.2 84.5h0M657.1 88.1h0M667.2 93.0h0M681.7 96.1h0M691.6 100.0h0M708.7 104.2h0M721.2 108.7h0M729.2 112.5h0M737.4 116.6h0M745.4 119.7h0M754.5 123.8h0M760.8 128.6h0M770.6 132.5h0M779.4 135.8h0M791.0 139.8h0M800.8 143.3h0M805.3 147.2h0M809.3 150.8h0M812.2 156.2h0M815.7 159.9h0M817.8 163.2h0M820.0 167.4h0M824.9 171.3h0M826.1 175.8h0M830.2 179.4h0M830.5 183.2h0M833.8 187.7h0M835.6 191.2h0M838.3 194.7h0M839.5 199.0h0M841.3 202.7h0M840.4 207.3h0M840.3 211.1h0M842.7 214.6h0M842.8 218.8h0M845.1 222.7h0M845.8 225.7h0M845.7 229.8h0M848.6 234.8h0M847.5 238.3h0M849.7 241.5h0M850.3 246.4h0M852.1 249.7h0M853.5 253.7h0M854.0 257.8h0M856.0 262.1h0M856.3 266.0h0M855.9 270.4h0M857.6 273.9h0M857.3 277.2h0M858.9 282.0h0M860.3 285.3h0M859.3 289.5h0M862.1 292.9h0M862.5 296.9h0M862.0 300.7h0M862.7 305.1h0M865.2 309.8h0M863.8 312.9h0M866.6 316.6h0M865.6 320.9h0M865.7 324.6h0M867.2 328.7h0M869.4 332.5h0M868.0 337.3h0M869.5 341.2h0M870.7 345.0h0M870.6 348.1h0M872.6 352.5h0M872.8 356.7h0M874.1 360.1h0M873.8 365.0h0M875.0 368.0h0M876.0 371.9h0M877.1 375.6h0M878.1 380.2h0M877.6 384.7h0M878.2 387.7h0M878.5 392.1h0M881.2 396.2h0M881.1 400.3h0M881.1 403.6h0M883.4 408.4h0M884.2 412.0h0M885.5 415.5h0"/>
<path fill="none" stroke="#00ffff" stroke-width="11.6" stroke-linecap="round" d="M647.2 41.7h0M652.9 38.7h0M648.6 45.2h0M650.8 48.6h0M654.5 35.6h0"/>
<polyline fill="none" stroke="#ff0000" stroke-width="8.60" stroke-linejoin="round" points="723.3,18.8 723.2,20.4 723.2,22.0 723.1,23.5 723.1,25.1 723.0,26.7 722.2,28.3 721.0,30.6 717.0,34.6 712.0,38.5 708.0,42.5 704.0,46.4 701.0,50.3 697.0,54.3 692.0,58.2 685.5,66.1 686.3,74.0 703.2,81.9 721.3,89.8 735.6,97.7 771.0,117.4 824.0,137.1 832.0,176.5 847.0,216.0 858.7,255.4 867.0,294.8 875.0,334.3 889.2,413.1 900.5,492.0 910.5,570.9 919.8,649.8 927.5,728.6 932.2,807.5"/><path fill="none" stroke="#ff0000" stroke-width="13.2" stroke-linecap="round" d="M723.3 18.8h0M723.2 20.4h0M723.2 22.0h0M723.1 23.5h0M723.1 25.1h0M723.0 26.7h0M722.2 28.3h0M721.0 30.6h0M717.0 34.6h0M712.0 38.5h0M708.0 42.5h0M704.0 46.4h0M701.0 50.3h0M697.0 54.3h0M692.0 58.2h0M685.5 66.1h0M686.3 74.0h0M703.2 81.9h0M721.3 89.8h0M735.6 97.7h0M771.0 117.4h0M824.0 137.1h0M832.0 176.5h0M847.0 216.0h0M858.7 255.4h0M867.0 294.8h0M875.0 334.3h0M889.2 413.1h0M900.5 492.0h0M910.5 570.9h0M919.8 649.8h0M927.5 728.6h0M932.2 807.5h0"/>
<polyline fill="none" stroke="#0000ff" stroke-width="2.78" stroke-linejoin="round" points="665.7,19.6 665.5,23.5 665.3,27.5 665.1,31.4 664.5,35.4 663.8,39.3 662.9,43.2 661.6,47.2 658.5,51.1 655.7,55.1 652.9,59.0 650.4,63.0 647.9,66.9 650.1,70.9 653.3,74.8 657.8,78.7 663.2,82.7 670.9,86.6 683.2,90.6 693.7,94.5 705.8,98.5 718.5,102.4 728.7,106.3 736.6,110.3 744.1,114.2 750.9,118.2 757.3,122.1 765.6,126.1 774.1,130.0 783.4,134.0 793.3,137.9 803.0,141.8 807.9,145.8 812.8,149.7 816.8,153.7 819.4,157.6 822.0,161.6 824.7,165.5 827.3,169.4 829.9,173.4 832.6,177.3 835.2,181.3 837.4,185.2 839.4,189.2 841.3,193.1 842.8,197.0 843.5,201.0 844.2,204.9 844.8,208.9 845.5,212.8 846.2,216.8 847.3,220.7 848.4,224.7 849.5,228.6 850.6,232.5 851.7,236.5 852.8,240.4 853.9,244.4 855.0,248.3 856.1,252.3 857.2,256.2 858.0,260.1 858.8,264.1 859.6,268.0 860.4,272.0 861.2,275.9 862.0,279.9 862.8,283.8 863.6,287.7 864.4,291.7 865.1,295.6 865.8,299.6 866.5,303.5 867.2,307.5 867.9,311.4 868.6,315.4 869.3,319.3 870.0,323.2 870.7,327.2 871.4,331.1 872.2,335.1 872.9,339.0 873.7,343.0 874.4,346.9 875.2,350.8 875.9,354.8 876.7,358.7 877.4,362.7 878.2,366.6 878.9,370.6 879.7,374.5 880.5,378.4 881.3,382.4 882.2,386.3 883.0,390.3 883.8,394.2 884.7,398.2 885.5,402.1 886.3,406.1 887.2,410.0 888.0,413.9"/><path fill="none" stroke="#0000ff" stroke-width="12.6" stroke-linecap="round" d="M665.7 19.6h0M665.5 23.5h0M665.3 27.5h0M665.1 31.4h0M664.5 35.4h0M663.8 39.3h0M662.9 43.2h0M661.6 47.2h0M658.5 51.1h0M655.7 55.1h0M652.9 59.0h0M650.4 63.0h0M647.9 66.9h0M650.1 70.9h0M653.3 74.8h0M657.8 78.7h0M663.2 82.7h0M670.9 86.6h0M683.2 90.6h0M693.7 94.5h0M705.8 98.5h0M718.5 102.4h0M728.7 106.3h0M736.6 110.3h0M744.1 114.2h0M750.9 118.2h0M757.3 122.1h0M765.6 126.1h0M774.1 130.0h0M783.4 134.0h0M793.3 137.9h0M803.0 141.8h0M807.9 145.8h0M812.8 149.7h0M816.8 153.7h0M819.4 157.6h0M822.0 161.6h0M824.7 165.5h0M827.3 169.4h0M829.9 173.4h0M832.6 177.3h0M835.2 181.3h0M837.4 185.2h0M839.4 189.2h0M841.3 193.1h0M842.8 197.0h0M843.5 201.0h0M844.2 204.9h0M844.8 208.9h0M845.5 212.8h0M846.2 216.8h0M847.3 220.7h0M848.4 224.7h0M849.5 228.6h0M850.6 232.5h0M851.7 236.5h0M852.8 240.4h0M853.9 244.4h0M855.0 248.3h0M856.1 252.3h0M857.2 256.2h0M858.0 260.1h0M858.8 264.1h0M859.6 268.0h0M860.4 272.0h0M861.2 275.9h0M862.0 279.9h0M862.8 283.8h0M863.6 287.7h0M864.4 291.7h0M865.1 295.6h0M865.8 299.6h0M866.5 303.5h0M867.2 307.5h0M867.9 311.4h0M868.6 315.4h0M869.3 319.3h0M870.0 323.2h0M870.7 327.2h0M871.4 331.1h0M872.2 335.1h0M872.9 339.0h0M873.7 343.0h0M874.4 346.9h0M875.2 350.8h0M875.9 354.8h0M876.7 358.7h0M877.4 362.7h0M878.2 366.6h0M878.9 370.6h0M879.7 374.5h0M880.5 378.4h0M881.3 382.4h0M882.2 386.3h0M883.0 390.3h0M883.8 394.2h0M884.7 398.2h0M885.5 402.1h0M886.3 406.1h0M887.2 410.0h0M888.0 413.9h0"/>
<polyline fill="none" stroke="#ff0000" stroke-width="2.78" stroke-linejoin="round" points="723.3,18.8 723.2,20.4 723.2,22.0 723.1,23.5 723.1,25.1 723.0,26.7 722.2,28.3 721.0,30.6 717.0,34.6 712.0,38.5 708.0,42.5 704.0,46.4 701.0,50.3 697.0,54.3 692.0,58.2 685.5,66.1 686.3,74.0 703.2,81.9 721.3,89.8 735.6,97.7 771.0,117.4 824.0,137.1 834.9,176.5 851.0,216.0 862.5,255.4 870.5,294.8 878.0,334.3 892.3,413.1 900.6,492.0 910.5,570.9 919.8,649.8 927.5,728.6 932.3,807.5"/><path fill="none" stroke="#ff0000" stroke-width="12.6" stroke-linecap="round" d="M723.3 18.8h0M723.2 20.4h0M723.2 22.0h0M723.1 23.5h0M723.1 25.1h0M723.0 26.7h0M722.2 28.3h0M721.0 30.6h0M717.0 34.6h0M712.0 38.5h0M708.0 42.5h0M704.0 46.4h0M701.0 50.3h0M697.0 54.3h0M692.0 58.2h0M685.5 66.1h0M686.3 74.0h0M703.2 81.9h0M721.3 89.8h0M735.6 97.7h0M771.0 117.4h0M824.0 137.1h0M834.9 176.5h0M851.0 216.0h0M862.5 255.4h0M870.5 294.8h0M878.0 334.3h0M892.3 413.1h0M900.6 492.0h0M910.5 570.9h0M919.8 649.8h0M927.5 728.6h0M932.3 807.5h0"/>
<polyline fill="none" stroke="#008000" stroke-width="3.00" stroke-linejoin="round" points="699.3,18.8 699.2,20.4 699.1,22.0 699.0,23.5 698.9,25.1 698.8,26.7 698.7,28.3 698.5,30.6 698.3,34.6 697.1,38.5 696.0,42.5 694.8,46.4 693.5,50.3 692.8,54.3 692.0,58.2 691.7,66.1 693.2,74.0 700.5,81.9 712.9,89.8 728.7,97.7 768.1,117.4 811.5,137.1 831.7,176.5 849.4,216.0 861.2,255.4 869.5,294.8 877.5,334.3 891.7,413.1 903.1,492.0 913.0,570.9 922.8,649.8 930.0,728.6 934.2,807.5"/><path fill="none" stroke="#008000" stroke-width="12.6" stroke-linecap="round" d="M699.3 18.8h0M699.2 20.4h0M699.1 22.0h0M699.0 23.5h0M698.9 25.1h0M698.8 26.7h0M698.7 28.3h0M698.5 30.6h0M698.3 34.6h0M697.1 38.5h0M696.0 42.5h0M694.8 46.4h0M693.5 50.3h0M692.8 54.3h0M692.0 58.2h0M691.7 66.1h0M693.2 74.0h0M700.5 81.9h0M712.9 89.8h0M728.7 97.7h0M768.1 117.4h0M811.5 137.1h0M831.7 176.5h0M849.4 216.0h0M861.2 255.4h0M869.5 294.8h0M877.5 334.3h0M891.7 413.1h0M903.1 492.0h0M913.0 570.9h0M922.8 649.8h0M930.0 728.6h0M934.2 807.5h0"/>
<polyline fill="none" stroke="#ff00ff" stroke-width="3.00" stroke-linejoin="round" points="673.2,19.2 673.2,20.0 673.2,20.9 673.2,21.8 673.2,22.8 673.2,23.9 673.2,25.1 673.2,26.3 673.2,27.8 673.2,29.4 673.2,31.3 673.2,33.4 673.2,35.8 673.2,38.7 671.7,42.0 670.0,46.0 667.5,50.6 666.0,56.2 665.2,62.8 667.0,70.7 680.5,80.2 703.3,91.6 734.4,105.3 768.1,121.9 795.7,141.7 817.5,165.6 829.2,194.3 840.3,228.6 853.4,269.7 865.7,318.7 878.3,376.8 893.2,445.6 905.8,526.4 916.1,620.8 925.5,730.5"/><path fill="none" stroke="#ff00ff" stroke-width="12.6" stroke-linecap="round" d="M673.2 19.2h0M673.2 20.0h0M673.2 20.9h0M673.2 21.8h0M673.2 22.8h0M673.2 23.9h0M673.2 25.1h0M673.2 26.3h0M673.2 27.8h0M673.2 29.4h0M673.2 31.3h0M673.2 33.4h0M673.2 35.8h0M673.2 38.7h0M671.7 42.0h0M670.0 46.0h0M667.5 50.6h0M666.0 56.2h0M665.2 62.8h0M667.0 70.7h0M680.5 80.2h0M703.3 91.6h0M734.4 105.3h0M768.1 121.9h0M795.7 141.7h0M817.5 165.6h0M829.2 194.3h0M840.3 228.6h0M853.4 269.7h0M865.7 318.7h0M878.3 376.8h0M893.2 445.6h0M905.8 526.4h0M916.1 620.8h0M925.5 730.5h0"/>
</g>
<rect x="589.46" y="19.35" width="397.14" height="795.00" fill="none" stroke="#000" stroke-width="1.4"/>
<path stroke="#000" stroke-width="1.4" fill="none" d="M630.50 814.35v6.3M733.50 814.35v6.3M837.50 814.35v6.3M940.50 814.35v6.3M589.46 19.35h-6.3M589.46 97.50h-6.3M589.46 176.50h-6.3M589.46 255.50h-6.3M589.46 334.50h-6.3M589.46 413.50h-6.3M589.46 492.50h-6.3M589.46 570.50h-6.3M589.46 649.50h-6.3M589.46 728.50h-6.3M589.46 807.50h-6.3"/>
<text x="629.9" y="841.8" font-size="16.9" text-anchor="middle">33.0</text>
<text x="733.2" y="841.8" font-size="16.9" text-anchor="middle">33.5</text>
<text x="836.5" y="841.8" font-size="16.9" text-anchor="middle">34.0</text>
<text x="939.9" y="841.8" font-size="16.9" text-anchor="middle">34.5</text>
</g>
<g id="ax2">
<path stroke="#b0b0b0" stroke-width="0.9" stroke-dasharray="3.26 1.41" fill="none" d="M1091.50 814.35V19.35M1182.50 814.35V19.35M1272.50 814.35V19.35M1362.50 814.35V19.35M1452.50 814.35V19.35M1078.50 97.50H1476.50M1078.50 176.50H1476.50M1078.50 255.50H1476.50M1078.50 334.50H1476.50M1078.50 413.50H1476.50M1078.50 492.50H1476.50M1078.50 570.50H1476.50M1078.50 649.50H1476.50M1078.50 728.50H1476.50M1078.50 807.50H1476.50"/>
<g clip-path="url(#c2)">
<path fill="none" stroke="#00ffff" stroke-width="11.6" stroke-linecap="round" d="M1105.1 19.8h0M1105.7 23.7h0M1106.8 27.7h0M1107.2 31.9h0M1108.2 35.8h0M1110.2 40.0h0M1111.4 43.7h0M1113.3 47.7h0M1115.8 51.9h0M1118.5 55.7h0M1127.7 59.6h0M1133.8 63.7h0M1139.7 67.7h0M1144.1 71.5h0M1149.8 75.4h0M1154.7 79.6h0M1159.2 83.4h0M1163.8 87.4h0M1167.9 91.3h0M1173.4 95.2h0M1177.6 98.8h0M1182.7 103.2h0M1187.0 106.7h0M1191.2 110.6h0M1195.7 115.1h0M1199.8 118.7h0M1203.6 122.4h0M1207.7 126.5h0M1210.5 130.7h0M1213.7 134.4h0M1216.5 138.4h0M1220.1 142.6h0M1221.9 146.5h0M1224.4 150.1h0M1227.4 154.1h0M1229.5 158.2h0M1231.7 162.3h0M1234.1 166.2h0M1236.7 170.0h0M1237.7 174.1h0M1239.6 177.8h0M1241.9 181.5h0M1244.0 185.8h0M1245.9 189.6h0M1247.7 193.6h0M1249.1 197.7h0M1251.5 201.6h0M1253.0 205.3h0M1254.7 209.1h0M1255.8 213.1h0M1257.4 217.3h0M1259.2 221.1h0M1260.5 225.0h0M1262.2 228.9h0M1263.5 233.1h0M1265.5 236.9h0M1266.7 241.0h0M1268.3 244.7h0M1270.3 248.9h0M1272.3 252.8h0M1273.8 256.9h0M1275.2 260.7h0M1276.2 264.4h0M1277.7 268.7h0M1279.9 272.5h0M1281.0 276.3h0M1282.4 280.4h0M1284.7 284.2h0M1285.3 288.0h0M1287.1 292.3h0M1289.0 296.1h0M1289.8 299.8h0M1291.4 304.1h0M1293.2 308.2h0M1295.1 312.0h0M1296.2 316.0h0M1297.3 319.6h0M1299.1 323.7h0M1300.1 327.5h0M1301.3 331.8h0M1303.3 335.7h0M1304.9 339.4h0M1306.0 343.4h0M1307.4 347.5h0M1308.1 351.1h0M1309.5 355.3h0M1311.1 358.9h0M1312.8 363.3h0M1313.8 366.9h0M1315.6 371.0h0M1316.2 374.9h0M1318.0 379.1h0M1319.3 382.9h0M1320.4 386.7h0M1322.4 390.7h0M1323.0 394.7h0M1324.4 398.5h0M1326.0 402.6h0M1327.6 406.6h0M1328.7 410.2h0M1330.4 414.2h0"/><path fill="none" stroke="#00ffff" stroke-width="11.6" stroke-linecap="round" d="M1105.0 19.8h0M1106.0 24.0h0M1106.7 28.0h0M1107.9 32.0h0M1108.3 36.3h0M1110.7 39.9h0M1112.3 44.5h0M1114.4 48.1h0M1117.3 52.3h0M1122.4 56.2h0M1131.4 59.7h0M1138.2 64.1h0M1142.7 67.6h0M1148.4 72.1h0M1153.0 75.9h0M1158.4 79.8h0M1162.8 83.5h0M1166.1 87.3h0M1171.2 91.3h0M1175.7 95.6h0M1179.0 99.6h0M1183.4 103.4h0M1187.7 107.5h0M1192.7 111.5h0M1195.5 115.4h0M1200.0 119.3h0M1203.8 123.1h0M1207.8 127.2h0M1211.0 130.7h0M1214.6 134.8h0M1217.4 138.5h0M1220.7 142.5h0M1223.2 146.9h0M1225.2 150.4h0M1227.8 154.4h0M1230.0 158.3h0M1233.0 162.5h0M1234.7 166.2h0M1237.0 170.5h0M1239.0 174.0h0M1240.4 178.1h0M1242.7 181.9h0M1244.4 186.3h0M1246.4 189.7h0M1247.6 193.7h0M1249.9 197.9h0M1251.3 201.8h0M1252.8 205.8h0M1254.7 209.9h0M1256.4 213.7h0M1258.2 217.7h0M1259.6 221.2h0M1261.2 225.6h0M1262.5 229.5h0M1263.9 233.5h0M1265.7 237.3h0M1267.1 241.1h0M1268.8 245.0h0M1270.2 249.0h0M1272.6 253.1h0M1274.2 257.1h0M1275.7 261.1h0M1277.2 264.7h0M1278.3 268.7h0M1279.6 272.6h0M1281.9 276.9h0M1282.9 280.8h0M1284.8 284.8h0M1286.3 288.5h0M1287.2 292.6h0M1288.9 296.5h0M1290.4 300.4h0M1292.5 304.1h0M1293.6 308.3h0M1295.1 312.4h0M1296.4 316.3h0M1298.2 320.3h0M1299.0 323.9h0M1300.5 328.1h0M1301.6 331.8h0M1303.6 336.1h0M1304.4 339.7h0M1306.3 343.8h0M1307.7 347.8h0M1308.6 351.5h0M1309.7 355.6h0M1311.2 359.4h0M1313.3 363.5h0M1314.3 367.5h0M1315.7 371.4h0M1316.7 375.1h0M1317.8 379.0h0M1319.5 383.0h0M1320.6 387.1h0M1322.8 391.1h0M1323.5 395.1h0M1324.7 398.7h0M1326.2 402.8h0M1328.0 406.8h0M1329.4 410.6h0M1330.9 414.6h0"/><path fill="none" stroke="#00ffff" stroke-width="11.6" stroke-linecap="round" d="M1105.5 19.4h0M1106.6 23.2h0M1107.7 27.3h0M1108.6 31.0h0M1109.1 34.8h0M1111.9 38.6h0M1113.7 42.7h0M1115.7 46.4h0M1117.0 50.3h0M1119.9 54.4h0M1124.7 58.5h0M1132.7 62.1h0M1137.4 66.6h0M1142.5 70.6h0M1148.1 74.4h0M1152.9 78.3h0M1158.0 82.0h0M1163.3 85.8h0M1168.1 90.2h0M1173.3 93.9h0M1178.9 97.7h0M1183.2 101.7h0M1188.4 105.7h0M1193.2 109.7h0M1197.5 113.4h0M1201.2 117.8h0M1204.7 121.3h0M1208.8 125.3h0M1212.7 129.6h0M1215.3 133.1h0M1218.7 137.1h0M1221.4 141.2h0M1223.6 145.0h0M1226.3 149.2h0M1229.4 153.2h0M1230.7 156.9h0M1233.9 161.1h0M1236.4 165.2h0M1238.3 168.7h0M1240.3 172.9h0M1241.3 176.6h0M1243.9 180.6h0M1244.9 184.6h0M1247.7 188.6h0M1249.3 192.4h0M1250.7 196.5h0M1252.1 200.6h0M1253.8 204.3h0M1256.0 208.4h0M1256.9 212.1h0M1258.9 216.3h0M1259.9 220.2h0M1262.2 224.2h0M1263.3 228.1h0M1265.3 232.2h0M1266.4 236.2h0M1268.8 240.1h0M1270.3 243.8h0M1271.9 247.7h0M1272.9 251.8h0M1275.1 255.5h0M1276.1 259.5h0M1277.9 263.5h0M1279.2 267.7h0M1281.1 271.7h0M1282.5 275.5h0M1283.6 279.6h0M1285.3 283.3h0M1287.1 287.5h0M1288.5 291.5h0M1290.2 295.0h0M1291.9 299.0h0M1293.5 303.0h0M1294.3 307.2h0M1295.9 310.9h0M1297.4 315.0h0M1298.6 318.8h0M1300.0 322.9h0M1301.2 326.8h0M1302.8 330.6h0M1304.5 334.7h0M1305.4 338.4h0M1306.7 342.7h0M1308.1 346.3h0M1309.8 350.4h0M1311.5 354.1h0M1312.3 358.1h0M1313.9 362.2h0M1315.1 366.3h0M1316.7 370.3h0M1318.4 373.9h0M1319.7 377.9h0M1320.2 382.1h0M1321.6 385.6h0M1323.1 389.7h0M1325.2 393.9h0M1326.0 397.7h0M1327.8 401.8h0M1328.9 405.6h0M1329.8 409.4h0M1331.7 413.5h0"/><path fill="none" stroke="#00ffff" stroke-width="11.6" stroke-linecap="round" d="M1105.0 19.7h0M1105.9 23.5h0M1106.2 27.6h0M1107.4 31.3h0M1108.3 35.2h0M1109.9 39.2h0M1112.3 43.4h0M1114.0 47.3h0M1117.0 51.1h0M1126.4 55.3h0M1133.7 59.0h0M1140.8 63.1h0M1146.9 66.7h0M1152.3 71.0h0M1156.1 74.8h0M1161.4 78.6h0M1164.8 83.0h0M1169.2 86.5h0M1172.8 90.5h0M1176.5 94.7h0M1179.6 98.3h0M1183.7 102.3h0M1187.6 106.1h0M1191.8 110.2h0M1195.1 114.3h0M1199.9 118.2h0M1203.1 122.2h0M1207.0 125.9h0M1210.9 129.7h0M1214.1 133.7h0M1216.7 138.2h0M1220.2 142.0h0M1222.4 145.9h0M1224.9 150.0h0M1226.7 153.8h0M1229.2 157.5h0M1232.2 161.6h0M1234.7 165.7h0M1236.3 169.3h0M1237.5 173.4h0M1240.2 177.2h0M1241.4 181.0h0M1243.4 185.3h0M1245.1 189.0h0M1247.2 193.2h0M1249.7 196.8h0M1250.4 201.2h0M1252.9 204.8h0M1253.9 208.9h0M1255.5 212.8h0M1257.2 216.6h0M1258.4 220.5h0M1260.1 224.5h0M1262.2 228.7h0M1263.4 232.7h0M1265.5 236.4h0M1266.9 240.3h0M1268.9 244.4h0M1269.6 248.1h0M1271.8 252.2h0M1273.4 256.1h0M1275.1 260.3h0M1276.0 264.1h0M1277.7 268.1h0M1279.9 272.1h0M1280.8 275.7h0M1282.7 279.9h0M1283.7 283.7h0M1285.6 287.6h0M1287.2 291.6h0M1288.3 295.6h0M1290.1 299.7h0M1291.1 303.6h0M1292.8 307.4h0M1294.7 311.5h0M1296.1 315.5h0M1297.2 319.2h0M1299.0 323.1h0M1299.9 327.0h0M1301.8 331.3h0M1303.1 335.3h0M1304.5 338.9h0M1305.4 343.1h0M1306.5 347.0h0M1307.9 350.6h0M1309.7 354.6h0M1311.4 358.9h0M1312.3 362.5h0M1313.3 366.6h0M1315.1 370.5h0M1316.6 374.5h0M1318.0 378.3h0M1318.7 382.3h0M1320.5 386.2h0M1322.0 390.1h0M1323.0 394.2h0M1324.8 398.3h0M1325.8 402.1h0M1327.7 406.3h0M1328.8 409.8h0M1330.0 414.0h0"/><path fill="none" stroke="#00ffff" stroke-width="11.6" stroke-linecap="round" d="M1105.4 19.6h0M1106.8 23.7h0M1107.4 27.6h0M1108.8 31.5h0M1109.4 35.6h0M1111.9 39.4h0M1113.1 43.4h0M1115.0 47.7h0M1116.7 51.2h0M1119.2 55.0h0M1120.1 59.0h0M1125.9 63.2h0M1134.5 66.9h0M1138.4 71.2h0M1143.9 74.9h0M1149.2 78.8h0M1155.8 82.6h0M1160.5 87.0h0M1166.9 91.0h0M1172.1 95.0h0M1177.8 98.5h0M1183.1 102.7h0M1188.6 106.3h0M1192.7 110.8h0M1196.8 114.6h0M1201.1 118.2h0M1205.1 122.3h0M1209.9 126.0h0M1213.6 130.1h0M1215.8 134.3h0M1219.0 137.9h0M1222.0 142.2h0M1224.9 146.0h0M1226.3 150.1h0M1229.4 154.1h0M1232.2 157.7h0M1234.4 161.9h0M1236.1 165.6h0M1238.1 169.5h0M1240.0 173.3h0M1241.7 177.7h0M1243.8 181.5h0M1246.1 185.5h0M1247.3 189.5h0M1249.8 193.5h0M1251.4 197.3h0M1253.0 201.0h0M1254.5 205.0h0M1256.2 208.8h0M1257.5 212.9h0M1259.4 216.8h0M1261.0 221.0h0M1262.7 224.6h0M1264.3 228.9h0M1265.7 232.8h0M1266.7 236.8h0M1268.7 240.6h0M1270.1 244.7h0M1272.2 248.6h0M1273.2 252.3h0M1274.8 256.2h0M1276.5 260.1h0M1278.6 264.1h0M1279.4 268.0h0M1281.6 272.0h0M1282.9 276.0h0M1284.7 280.2h0M1285.7 284.0h0M1287.8 287.9h0M1289.3 292.0h0M1290.2 296.0h0M1292.0 299.5h0M1293.5 303.8h0M1294.9 307.6h0M1296.3 311.7h0M1298.0 315.4h0M1299.2 319.4h0M1301.1 323.5h0M1301.7 327.5h0M1302.9 331.3h0M1304.7 335.3h0M1306.0 339.0h0M1307.5 343.3h0M1309.1 347.0h0M1309.9 351.1h0M1311.8 354.8h0M1313.2 359.1h0M1314.1 362.8h0M1315.7 367.0h0M1316.6 370.6h0M1318.1 374.8h0M1319.3 378.6h0M1321.0 382.6h0M1322.0 386.7h0M1324.2 390.5h0M1325.3 394.2h0M1326.8 398.3h0M1328.0 402.4h0M1329.0 406.4h0M1330.2 409.9h0M1331.8 414.3h0"/><path fill="none" stroke="#00ffff" stroke-width="11.6" stroke-linecap="round" d="M1105.3 20.0h0M1106.2 24.1h0M1107.2 28.0h0M1108.3 32.3h0M1109.2 36.3h0M1111.3 40.2h0M1113.9 44.4h0M1116.5 48.1h0M1118.5 52.2h0M1131.7 56.4h0M1138.4 60.0h0M1145.7 63.9h0M1152.1 68.3h0M1156.9 72.0h0M1162.3 76.1h0M1166.5 80.0h0M1169.6 84.0h0M1173.8 87.5h0M1176.9 91.7h0M1179.0 95.4h0M1183.2 99.7h0M1185.9 103.5h0M1190.2 107.8h0M1193.3 111.6h0M1196.8 115.2h0M1200.4 119.3h0M1204.7 123.1h0M1208.0 127.0h0M1211.7 131.0h0M1214.9 135.1h0M1217.7 139.0h0M1221.0 143.2h0M1223.5 147.2h0M1225.8 150.6h0M1228.4 154.6h0M1230.3 158.4h0M1233.3 162.9h0M1235.3 166.5h0M1237.2 170.4h0M1239.4 174.4h0M1240.7 178.6h0M1243.0 182.0h0M1245.2 186.3h0M1246.5 190.2h0M1249.0 194.0h0M1250.2 197.9h0M1251.9 202.0h0M1253.7 206.1h0M1254.7 209.7h0M1257.0 213.9h0M1258.4 217.8h0M1259.7 221.8h0M1261.5 225.5h0M1262.8 229.3h0M1265.1 233.6h0M1265.8 237.3h0M1267.8 241.3h0M1269.3 245.5h0M1270.9 249.2h0M1273.1 253.2h0M1274.2 257.0h0M1275.7 261.1h0M1277.7 264.9h0M1278.9 268.9h0M1280.4 273.1h0M1282.1 276.7h0M1283.4 280.9h0M1284.7 284.8h0M1286.1 288.5h0M1287.6 292.8h0M1289.2 296.4h0M1290.6 300.4h0M1292.8 304.5h0M1294.4 308.6h0M1295.6 312.5h0M1296.6 316.5h0M1298.4 320.1h0M1300.1 324.3h0M1301.1 327.9h0M1302.9 332.2h0M1304.0 336.2h0M1304.8 339.7h0M1306.2 343.6h0M1308.2 347.9h0M1308.9 351.6h0M1310.3 355.8h0M1312.2 359.9h0M1313.2 363.8h0M1314.6 367.5h0M1315.8 371.3h0M1317.9 375.7h0M1319.0 379.2h0M1319.8 383.1h0M1321.3 387.4h0M1322.4 391.2h0M1324.4 394.9h0M1325.5 399.2h0M1327.0 403.0h0M1328.7 407.0h0M1329.5 410.9h0M1331.4 415.0h0"/><path fill="none" stroke="#00ffff" stroke-width="11.6" stroke-linecap="round" d="M1105.2 19.4h0M1105.8 23.1h0M1106.8 27.1h0M1107.4 31.0h0M1108.9 34.8h0M1109.8 38.8h0M1112.0 42.6h0M1114.0 46.6h0M1115.5 50.7h0M1117.9 54.6h0M1120.8 58.2h0M1128.5 62.1h0M1134.8 66.3h0M1139.5 70.3h0M1145.0 74.2h0M1149.6 78.1h0M1154.7 82.0h0M1159.9 86.1h0M1165.8 89.7h0M1171.8 93.5h0M1177.2 97.9h0M1181.5 101.8h0M1187.2 105.8h0M1191.8 109.5h0M1196.4 113.2h0M1200.2 117.2h0M1203.6 121.1h0M1208.3 125.3h0M1212.0 129.1h0M1215.0 133.3h0M1217.2 137.1h0M1220.9 140.9h0M1223.2 144.9h0M1225.3 149.2h0M1228.4 153.2h0M1230.2 156.9h0M1233.0 161.0h0M1235.0 165.0h0M1236.8 169.0h0M1238.8 172.5h0M1241.0 176.5h0M1242.8 180.4h0M1245.0 184.6h0M1246.6 188.3h0M1248.3 192.4h0M1249.6 196.6h0M1251.0 200.3h0M1252.7 204.5h0M1255.1 208.0h0M1256.3 212.2h0M1258.1 216.3h0M1259.4 220.3h0M1260.8 223.9h0M1263.1 227.8h0M1264.0 231.9h0M1265.8 235.7h0M1268.0 239.8h0M1269.4 243.6h0M1271.1 247.6h0M1272.7 251.7h0M1274.4 255.7h0M1275.6 259.6h0M1277.4 263.5h0M1278.3 267.6h0M1280.5 271.5h0M1282.0 275.2h0M1283.2 279.4h0M1285.2 283.4h0M1285.9 287.2h0M1287.8 291.0h0M1288.9 294.8h0M1290.7 299.0h0M1292.0 302.8h0M1293.8 307.0h0M1295.3 310.6h0M1297.1 314.7h0M1298.6 318.9h0M1299.2 322.7h0M1301.3 326.5h0M1302.3 330.4h0M1303.1 334.3h0M1304.6 338.3h0M1306.4 342.4h0M1308.1 346.4h0M1308.8 350.5h0M1310.5 354.2h0M1312.0 358.2h0M1312.9 362.1h0M1314.2 366.2h0M1315.5 370.2h0M1316.6 373.7h0M1318.5 377.7h0M1319.8 381.6h0M1321.5 385.8h0M1322.7 389.9h0M1324.3 393.7h0M1325.4 397.3h0M1326.1 401.5h0M1328.4 405.4h0M1329.4 409.1h0M1330.6 413.5h0"/><path fill="none" stroke="#00ffff" stroke-width="11.6" stroke-linecap="round" d="M1105.6 19.5h0M1106.5 23.3h0M1107.6 27.4h0M1108.7 31.3h0M1110.0 35.2h0M1112.6 38.9h0M1115.6 42.8h0M1117.6 46.6h0M1120.3 51.0h0M1126.4 54.8h0M1136.0 58.4h0M1142.4 62.7h0M1149.1 66.8h0M1154.7 70.5h0M1158.9 74.2h0M1163.4 78.4h0M1167.0 82.5h0M1170.8 86.0h0M1174.5 90.0h0M1178.8 94.3h0M1182.1 98.1h0M1186.6 102.1h0M1190.5 106.0h0M1193.8 109.6h0M1198.0 113.7h0M1202.2 117.6h0M1206.1 121.6h0M1209.1 125.7h0M1213.3 129.5h0M1216.7 133.4h0M1219.6 137.7h0M1222.3 141.5h0M1225.2 145.5h0M1226.7 149.1h0M1229.0 153.2h0M1231.4 157.3h0M1234.1 161.1h0M1236.6 165.4h0M1238.2 168.9h0M1240.1 172.9h0M1242.6 177.1h0M1244.0 180.8h0M1245.4 184.7h0M1248.1 188.9h0M1249.3 192.8h0M1250.8 196.7h0M1252.7 200.5h0M1254.7 204.7h0M1256.1 208.4h0M1257.8 212.5h0M1259.4 216.3h0M1261.3 220.2h0M1262.2 224.3h0M1263.8 228.1h0M1265.9 232.5h0M1267.1 236.1h0M1269.0 240.0h0M1270.4 244.2h0M1272.0 247.8h0M1273.2 252.0h0M1275.7 256.1h0M1276.4 259.8h0M1278.4 263.6h0M1280.2 267.7h0M1281.9 271.6h0M1283.5 275.8h0M1284.5 279.4h0M1286.0 283.3h0M1287.7 287.5h0M1289.1 291.6h0M1290.1 295.4h0M1292.3 299.1h0M1293.4 303.0h0M1295.1 307.3h0M1296.4 311.2h0M1297.9 315.2h0M1299.3 319.2h0M1300.8 322.7h0M1301.8 327.0h0M1303.9 330.9h0M1304.6 334.9h0M1306.5 338.5h0M1307.5 342.7h0M1308.5 346.4h0M1310.2 350.7h0M1312.1 354.4h0M1313.4 358.6h0M1314.7 362.4h0M1316.2 366.4h0M1317.5 370.3h0M1318.1 374.2h0M1319.7 378.1h0M1321.0 382.1h0M1322.6 385.9h0M1323.6 390.0h0M1325.2 393.9h0M1326.7 397.7h0M1328.0 401.7h0M1329.5 405.8h0M1330.9 409.7h0M1331.8 413.8h0"/><path fill="none" stroke="#00ffff" stroke-width="11.6" stroke-linecap="round" d="M1104.8 19.8h0M1105.5 23.8h0M1106.5 28.0h0M1107.1 32.0h0M1107.6 35.9h0M1109.2 39.9h0M1110.9 44.2h0M1113.2 47.8h0M1114.3 52.1h0M1116.5 55.9h0M1123.2 59.9h0M1130.3 63.5h0M1135.2 67.4h0M1140.9 71.6h0M1145.8 75.8h0M1150.9 79.3h0M1155.3 83.2h0M1161.0 87.5h0M1165.8 91.3h0M1170.8 95.3h0M1176.5 99.5h0M1181.8 103.4h0M1186.2 107.1h0M1190.6 111.3h0M1194.5 114.8h0M1198.6 119.2h0M1203.3 122.8h0M1207.3 127.1h0M1210.6 130.6h0M1214.0 134.6h0M1216.2 138.9h0M1219.6 142.5h0M1222.1 146.4h0M1223.9 150.4h0M1226.7 154.1h0M1229.1 158.5h0M1231.5 162.4h0M1234.2 166.0h0M1235.4 170.2h0M1238.0 174.0h0M1239.4 178.2h0M1242.1 181.8h0M1243.6 185.9h0M1245.2 189.6h0M1247.1 193.8h0M1249.1 197.7h0M1250.2 201.5h0M1252.0 205.5h0M1253.7 209.7h0M1255.1 213.7h0M1256.8 217.5h0M1258.5 221.4h0M1260.2 225.0h0M1262.2 229.4h0M1263.3 233.3h0M1265.1 237.3h0M1266.3 241.0h0M1268.0 245.0h0M1270.2 249.1h0M1271.5 252.8h0M1273.4 256.6h0M1274.4 260.9h0M1276.2 264.9h0M1277.5 268.6h0M1279.1 272.3h0M1280.5 276.3h0M1282.3 280.4h0M1283.9 284.3h0M1285.6 288.4h0M1287.3 292.1h0M1288.4 296.2h0M1289.8 300.4h0M1291.1 304.3h0M1292.7 308.0h0M1294.5 312.0h0M1295.7 315.8h0M1297.8 319.8h0M1298.3 323.9h0M1300.1 327.7h0M1301.2 331.9h0M1302.6 335.6h0M1304.5 339.6h0M1305.3 343.4h0M1306.9 347.6h0M1308.1 351.4h0M1309.2 355.5h0M1310.8 359.5h0M1312.1 363.4h0M1313.1 367.1h0M1315.3 371.3h0M1316.4 375.1h0M1317.6 378.9h0M1318.6 383.1h0M1320.5 386.8h0M1321.8 390.7h0M1323.1 394.7h0M1324.4 398.7h0M1325.8 402.5h0M1327.1 406.7h0M1328.1 410.5h0M1330.0 414.6h0"/>
<polyline fill="none" stroke="#ff0000" stroke-width="9.20" stroke-linejoin="round" points="1112.0,18.8 1112.3,20.4 1112.6,22.0 1112.9,23.5 1113.2,25.1 1113.5,26.7 1114.2,28.3 1115.2,30.6 1117.0,34.6 1120.0,38.5 1123.0,42.5 1126.0,46.4 1129.0,50.3 1132.5,54.3 1136.0,58.2 1144.0,66.1 1153.0,74.0 1164.0,81.9 1174.0,89.8 1183.0,97.7 1203.0,117.4 1227.5,137.1 1240.5,176.5 1258.3,216.0 1274.2,255.4 1289.2,294.8 1303.8,334.3 1330.6,413.1 1356.5,492.0 1381.2,570.9 1406.0,649.8 1429.8,728.6 1453.2,807.5"/><path fill="none" stroke="#ff0000" stroke-width="13.2" stroke-linecap="round" d="M1112.0 18.8h0M1112.3 20.4h0M1112.6 22.0h0M1112.9 23.5h0M1113.2 25.1h0M1113.5 26.7h0M1114.2 28.3h0M1115.2 30.6h0M1117.0 34.6h0M1120.0 38.5h0M1123.0 42.5h0M1126.0 46.4h0M1129.0 50.3h0M1132.5 54.3h0M1136.0 58.2h0M1144.0 66.1h0M1153.0 74.0h0M1164.0 81.9h0M1174.0 89.8h0M1183.0 97.7h0M1203.0 117.4h0M1227.5 137.1h0M1240.5 176.5h0M1258.3 216.0h0M1274.2 255.4h0M1289.2 294.8h0M1303.8 334.3h0M1330.6 413.1h0M1356.5 492.0h0M1381.2 570.9h0M1406.0 649.8h0M1429.8 728.6h0M1453.2 807.5h0"/>
<polyline fill="none" stroke="#0000ff" stroke-width="2.78" stroke-linejoin="round" points="1105.2,19.6 1106.2,23.5 1107.1,27.5 1108.1,31.4 1109.1,35.4 1111.0,39.3 1113.1,43.2 1115.2,47.2 1117.3,51.1 1120.0,55.1 1129.7,59.0 1136.1,63.0 1141.4,66.9 1146.7,70.9 1151.7,74.8 1156.3,78.7 1160.9,82.7 1165.5,86.6 1170.1,90.6 1174.7,94.5 1179.3,98.5 1183.9,102.4 1188.5,106.3 1192.7,110.3 1196.6,114.2 1200.5,118.2 1204.4,122.1 1208.3,126.1 1212.2,130.0 1215.1,134.0 1218.1,137.9 1221.1,141.8 1223.5,145.8 1225.9,149.7 1228.3,153.7 1230.6,157.6 1233.0,161.6 1235.4,165.5 1237.3,169.4 1239.2,173.4 1241.1,177.3 1242.9,181.3 1244.8,185.2 1246.7,189.2 1248.5,193.1 1250.2,197.0 1251.8,201.0 1253.4,204.9 1255.1,208.9 1256.7,212.8 1258.3,216.8 1259.9,220.7 1261.5,224.7 1263.1,228.6 1264.7,232.5 1266.3,236.5 1267.9,240.4 1269.5,244.4 1271.1,248.3 1272.6,252.3 1274.2,256.2 1275.8,260.1 1277.4,264.1 1279.0,268.0 1280.6,272.0 1282.1,275.9 1283.6,279.9 1285.1,283.8 1286.6,287.7 1288.1,291.7 1289.5,295.6 1291.0,299.6 1292.5,303.5 1294.0,307.5 1295.5,311.4 1297.0,315.4 1298.5,319.3 1299.9,323.2 1301.2,327.2 1302.6,331.1 1303.9,335.1 1305.3,339.0 1306.6,343.0 1308.0,346.9 1309.3,350.8 1310.7,354.8 1312.0,358.7 1313.4,362.7 1314.7,366.6 1316.1,370.6 1317.4,374.5 1318.8,378.4 1320.1,382.4 1321.5,386.3 1322.8,390.3 1324.2,394.2 1325.6,398.2 1326.9,402.1 1328.3,406.1 1329.6,410.0 1331.0,413.9"/><path fill="none" stroke="#0000ff" stroke-width="12.6" stroke-linecap="round" d="M1105.2 19.6h0M1106.2 23.5h0M1107.1 27.5h0M1108.1 31.4h0M1109.1 35.4h0M1111.0 39.3h0M1113.1 43.2h0M1115.2 47.2h0M1117.3 51.1h0M1120.0 55.1h0M1129.7 59.0h0M1136.1 63.0h0M1141.4 66.9h0M1146.7 70.9h0M1151.7 74.8h0M1156.3 78.7h0M1160.9 82.7h0M1165.5 86.6h0M1170.1 90.6h0M1174.7 94.5h0M1179.3 98.5h0M1183.9 102.4h0M1188.5 106.3h0M1192.7 110.3h0M1196.6 114.2h0M1200.5 118.2h0M1204.4 122.1h0M1208.3 126.1h0M1212.2 130.0h0M1215.1 134.0h0M1218.1 137.9h0M1221.1 141.8h0M1223.5 145.8h0M1225.9 149.7h0M1228.3 153.7h0M1230.6 157.6h0M1233.0 161.6h0M1235.4 165.5h0M1237.3 169.4h0M1239.2 173.4h0M1241.1 177.3h0M1242.9 181.3h0M1244.8 185.2h0M1246.7 189.2h0M1248.5 193.1h0M1250.2 197.0h0M1251.8 201.0h0M1253.4 204.9h0M1255.1 208.9h0M1256.7 212.8h0M1258.3 216.8h0M1259.9 220.7h0M1261.5 224.7h0M1263.1 228.6h0M1264.7 232.5h0M1266.3 236.5h0M1267.9 240.4h0M1269.5 244.4h0M1271.1 248.3h0M1272.6 252.3h0M1274.2 256.2h0M1275.8 260.1h0M1277.4 264.1h0M1279.0 268.0h0M1280.6 272.0h0M1282.1 275.9h0M1283.6 279.9h0M1285.1 283.8h0M1286.6 287.7h0M1288.1 291.7h0M1289.5 295.6h0M1291.0 299.6h0M1292.5 303.5h0M1294.0 307.5h0M1295.5 311.4h0M1297.0 315.4h0M1298.5 319.3h0M1299.9 323.2h0M1301.2 327.2h0M1302.6 331.1h0M1303.9 335.1h0M1305.3 339.0h0M1306.6 343.0h0M1308.0 346.9h0M1309.3 350.8h0M1310.7 354.8h0M1312.0 358.7h0M1313.4 362.7h0M1314.7 366.6h0M1316.1 370.6h0M1317.4 374.5h0M1318.8 378.4h0M1320.1 382.4h0M1321.5 386.3h0M1322.8 390.3h0M1324.2 394.2h0M1325.6 398.2h0M1326.9 402.1h0M1328.3 406.1h0M1329.6 410.0h0M1331.0 413.9h0"/>
<polyline fill="none" stroke="#ff0000" stroke-width="2.78" stroke-linejoin="round" points="1112.0,18.8 1112.3,20.4 1112.6,22.0 1112.9,23.5 1113.2,25.1 1113.5,26.7 1114.2,28.3 1115.2,30.6 1117.0,34.6 1120.0,38.5 1123.0,42.5 1126.0,46.4 1129.0,50.3 1132.5,54.3 1136.0,58.2 1144.0,66.1 1153.0,74.0 1164.0,81.9 1174.0,89.8 1183.0,97.7 1203.0,117.4 1227.5,137.1 1240.5,176.5 1258.3,216.0 1274.2,255.4 1289.2,294.8 1303.8,334.3 1330.6,413.1 1356.5,492.0 1381.2,570.9 1406.0,649.8 1429.8,728.6 1453.2,807.5"/><path fill="none" stroke="#ff0000" stroke-width="12.6" stroke-linecap="round" d="M1112.0 18.8h0M1112.3 20.4h0M1112.6 22.0h0M1112.9 23.5h0M1113.2 25.1h0M1113.5 26.7h0M1114.2 28.3h0M1115.2 30.6h0M1117.0 34.6h0M1120.0 38.5h0M1123.0 42.5h0M1126.0 46.4h0M1129.0 50.3h0M1132.5 54.3h0M1136.0 58.2h0M1144.0 66.1h0M1153.0 74.0h0M1164.0 81.9h0M1174.0 89.8h0M1183.0 97.7h0M1203.0 117.4h0M1227.5 137.1h0M1240.5 176.5h0M1258.3 216.0h0M1274.2 255.4h0M1289.2 294.8h0M1303.8 334.3h0M1330.6 413.1h0M1356.5 492.0h0M1381.2 570.9h0M1406.0 649.8h0M1429.8 728.6h0M1453.2 807.5h0"/>
<polyline fill="none" stroke="#008000" stroke-width="3.00" stroke-linejoin="round" points="1111.0,18.8 1111.3,20.4 1111.6,22.0 1111.9,23.5 1112.2,25.1 1112.5,26.7 1113.0,28.3 1113.8,30.6 1115.0,34.6 1118.0,38.5 1124.0,42.5 1127.0,46.4 1129.5,50.3 1132.0,54.3 1135.0,58.2 1141.8,66.1 1151.2,74.0 1162.1,81.9 1172.3,89.8 1181.1,97.7 1201.4,117.4 1223.3,137.1 1239.8,176.5 1258.1,216.0 1274.0,255.4 1289.0,294.8 1303.6,334.3 1330.4,413.1 1356.3,492.0 1381.0,570.9 1405.8,649.8 1429.6,728.6 1453.0,807.5"/><path fill="none" stroke="#008000" stroke-width="12.6" stroke-linecap="round" d="M1111.0 18.8h0M1111.3 20.4h0M1111.6 22.0h0M1111.9 23.5h0M1112.2 25.1h0M1112.5 26.7h0M1113.0 28.3h0M1113.8 30.6h0M1115.0 34.6h0M1118.0 38.5h0M1124.0 42.5h0M1127.0 46.4h0M1129.5 50.3h0M1132.0 54.3h0M1135.0 58.2h0M1141.8 66.1h0M1151.2 74.0h0M1162.1 81.9h0M1172.3 89.8h0M1181.1 97.7h0M1201.4 117.4h0M1223.3 137.1h0M1239.8 176.5h0M1258.1 216.0h0M1274.0 255.4h0M1289.0 294.8h0M1303.6 334.3h0M1330.4 413.1h0M1356.3 492.0h0M1381.0 570.9h0M1405.8 649.8h0M1429.6 728.6h0M1453.0 807.5h0"/>
<polyline fill="none" stroke="#ff00ff" stroke-width="3.00" stroke-linejoin="round" points="1109.7,19.2 1109.9,20.0 1110.1,20.9 1110.3,21.8 1110.6,22.8 1110.8,23.9 1111.1,25.1 1111.4,26.3 1111.8,27.8 1112.3,29.4 1112.8,31.3 1113.4,33.4 1114.1,35.8 1115.2,38.7 1116.5,42.0 1118.0,46.0 1120.9,50.6 1127.2,56.2 1138.9,62.8 1152.4,70.7 1166.5,80.2 1180.3,91.6 1194.2,105.3 1208.2,121.9 1222.4,141.7 1235.9,165.6 1249.1,194.3 1263.1,228.6 1279.7,269.7 1298.3,318.7 1318.2,376.8 1341.5,445.6 1367.1,526.4 1398.6,620.8 1431.4,730.5"/><path fill="none" stroke="#ff00ff" stroke-width="12.6" stroke-linecap="round" d="M1109.7 19.2h0M1109.9 20.0h0M1110.1 20.9h0M1110.3 21.8h0M1110.6 22.8h0M1110.8 23.9h0M1111.1 25.1h0M1111.4 26.3h0M1111.8 27.8h0M1112.3 29.4h0M1112.8 31.3h0M1113.4 33.4h0M1114.1 35.8h0M1115.2 38.7h0M1116.5 42.0h0M1118.0 46.0h0M1120.9 50.6h0M1127.2 56.2h0M1138.9 62.8h0M1152.4 70.7h0M1166.5 80.2h0M1180.3 91.6h0M1194.2 105.3h0M1208.2 121.9h0M1222.4 141.7h0M1235.9 165.6h0M1249.1 194.3h0M1263.1 228.6h0M1279.7 269.7h0M1298.3 318.7h0M1318.2 376.8h0M1341.5 445.6h0M1367.1 526.4h0M1398.6 620.8h0M1431.4 730.5h0"/>
</g>
<rect x="1078.50" y="19.35" width="398.00" height="795.00" fill="none" stroke="#000" stroke-width="1.4"/>
<path stroke="#000" stroke-width="1.4" fill="none" d="M1091.50 814.35v6.3M1182.50 814.35v6.3M1272.50 814.35v6.3M1362.50 814.35v6.3M1452.50 814.35v6.3M1078.50 19.35h-6.3M1078.50 97.50h-6.3M1078.50 176.50h-6.3M1078.50 255.50h-6.3M1078.50 334.50h-6.3M1078.50 413.50h-6.3M1078.50 492.50h-6.3M1078.50 570.50h-6.3M1078.50 649.50h-6.3M1078.50 728.50h-6.3M1078.50 807.50h-6.3"/>
<text font-size="16.9" text-anchor="middle" transform="translate(1090.4 850.2) rotate(-45)" y="6.1">1024</text>
<text font-size="16.9" text-anchor="middle" transform="translate(1180.6 850.2) rotate(-45)" y="6.1">1026</text>
<text font-size="16.9" text-anchor="middle" transform="translate(1270.8 850.2) rotate(-45)" y="6.1">1028</text>
<text font-size="16.9" text-anchor="middle" transform="translate(1361.0 850.2) rotate(-45)" y="6.1">1030</text>
<text font-size="16.9" text-anchor="middle" transform="translate(1451.2 850.2) rotate(-45)" y="6.1">1032</text>
</g>
<text font-size="22.55" font-weight="bold" text-anchor="middle" transform="translate(28.6 418.8) rotate(-90)">Depth (m)</text>
<text y="871.9" font-size="22.8" font-weight="bold" xml:space="preserve"><tspan x="187.6">Temperature (</tspan><tspan x="370.8" y="862.9" font-weight="normal" font-style="italic" font-size="15">o</tspan><tspan x="381.6" y="871.9" font-weight="normal" font-style="italic" font-size="22.2">C</tspan><tspan x="397.4" y="871.9">)</tspan></text>
<text x="787.7" y="869.7" font-size="22.3" font-weight="bold" text-anchor="middle">Salinity</text>
<text x="1277.8" y="895.8" font-size="22.74" font-weight="bold" text-anchor="middle">Density (kg m-3)</text>
<text x="424" y="917.8" font-size="17.41" font-style="italic" xml:space="preserve">Ocean Heat Content (kJ/cm^2) - Glider: N/A,  RTOFS: N/A,  ESPC: N/A,  CMEMS: N/A,</text>
<text x="1528.3" y="37.20" font-size="22.58" font-weight="bold">Comparison Date: 2026-01-21</text>
<text x="1528.3" y="90.30" font-size="22.58" font-weight="bold">Glider: sp040</text>
<text x="1528.3" y="116.85" font-size="22.58" font-weight="bold">Profiles: 9</text>
<text x="1528.3" y="143.40" font-size="22.58" font-weight="bold">First: 2026-01-21 00:37:15</text>
<text x="1528.3" y="169.95" font-size="22.58" font-weight="bold">Last: 2026-01-21 21:37:15</text>
<text x="1528.3" y="196.50" font-size="22.58" font-weight="bold">Method: Nearest-Neighbor</text>
<g id="map">
<g clip-path="url(#cm)">
<rect x="1568.65" y="259.90" width="397.80" height="313.40" fill="#97b6e1"/>
<polygon points="1670.0,258.0 1669.6,260.6 1670.9,263.8 1672.3,266.1 1672.4,269.7 1673.9,271.2 1676.1,274.0 1676.9,276.4 1677.8,278.3 1679.0,281.8 1680.0,284.0 1681.5,285.3 1683.0,289.0 1683.8,291.0 1686.0,294.6 1686.7,297.7 1687.6,300.2 1688.0,302.6 1689.7,304.9 1692.0,305.8 1693.2,307.4 1696.8,309.2 1698.6,310.4 1700.3,312.7 1702.0,315.1 1704.3,317.7 1706.4,320.4 1708.5,323.2 1708.0,324.6 1708.0,328.5 1704.8,329.5 1701.9,328.9 1699.5,329.3 1695.4,328.2 1693.5,326.2 1693.9,330.0 1697.7,331.6 1699.6,334.3 1702.6,334.9 1704.4,336.7 1707.8,338.8 1711.3,341.4 1713.9,343.9 1717.9,341.1 1719.6,344.8 1722.1,347.2 1725.9,348.7 1728.2,353.4 1729.7,357.2 1731.6,360.1 1730.2,363.2 1729.8,366.2 1729.0,369.1 1732.3,371.6 1734.2,374.6 1736.4,375.1 1740.0,376.5 1741.9,376.8 1743.8,379.4 1745.3,381.2 1748.4,382.1 1750.5,384.9 1752.8,386.9 1754.4,390.4 1755.0,392.3 1761.0,390.3 1762.9,386.7 1760.1,383.3 1758.5,380.4 1757.9,377.7 1757.6,375.4 1754.3,375.7 1751.8,375.7 1749.9,374.1 1747.9,370.6 1748.1,367.4 1746.6,364.5 1745.2,360.8 1742.5,358.0 1742.2,355.5 1741.2,352.6 1739.4,350.7 1738.0,347.6 1734.9,344.3 1733.2,341.8 1731.5,340.1 1729.1,336.8 1728.6,334.8 1727.2,331.9 1724.0,328.6 1722.8,325.4 1721.4,322.9 1720.7,320.2 1718.5,317.6 1714.2,316.7 1714.4,313.5 1712.7,310.3 1711.3,307.4 1708.9,306.6 1706.6,304.3 1703.9,301.9 1701.7,299.4 1701.7,296.4 1701.5,292.9 1701.1,290.6 1700.1,287.1 1699.0,282.9 1697.7,279.4 1697.9,275.0 1703.2,278.0 1706.1,278.0 1708.4,278.7 1711.4,280.2 1713.5,283.3 1716.5,283.8 1719.0,283.4 1719.6,287.6 1719.3,290.7 1721.7,293.5 1722.9,295.0 1723.7,299.1 1723.9,301.1 1725.4,304.3 1727.4,307.5 1729.8,310.0 1729.2,314.4 1733.6,316.5 1736.5,320.8 1736.8,323.5 1739.8,325.4 1742.6,328.0 1746.1,328.1 1748.7,328.6 1748.9,331.6 1750.0,334.0 1751.0,335.9 1753.3,338.7 1758.2,339.4 1761.0,342.1 1763.1,344.1 1764.2,347.3 1765.2,349.9 1763.6,351.4 1762.2,354.2 1763.6,357.6 1767.0,359.9 1770.6,360.7 1773.4,362.9 1774.6,364.6 1776.5,367.2 1779.4,369.5 1781.8,371.0 1783.9,372.6 1785.1,374.4 1787.1,375.9 1790.4,377.9 1791.5,380.1 1794.8,382.7 1795.7,386.2 1797.9,388.7 1800.5,390.8 1802.7,392.6 1804.2,393.9 1805.9,396.7 1806.6,399.9 1807.5,404.9 1808.0,406.6 1810.4,410.1 1810.4,412.6 1810.9,416.7 1809.6,418.3 1806.9,420.3 1805.5,422.4 1806.0,425.4 1808.2,428.1 1809.6,430.2 1811.3,433.6 1813.1,435.7 1815.6,437.7 1819.1,438.7 1820.8,441.4 1825.2,443.2 1827.7,445.6 1829.5,447.7 1831.6,450.8 1834.7,451.0 1838.1,452.8 1840.4,453.1 1843.4,453.9 1846.6,453.5 1848.9,453.7 1851.9,456.6 1854.1,459.0 1857.5,461.5 1860.5,463.7 1863.8,464.2 1866.7,465.6 1870.1,466.3 1872.1,467.8 1875.1,468.6 1877.5,470.7 1879.9,470.1 1882.4,471.4 1886.0,472.3 1888.9,472.8 1890.5,474.4 1893.0,476.3 1896.5,477.9 1898.1,479.0 1902.0,479.2 1906.3,479.5 1908.6,481.7 1912.1,482.1 1915.2,482.0 1917.1,481.0 1920.9,479.6 1923.8,478.1 1929.2,475.1 1931.8,474.5 1934.6,475.0 1936.8,476.3 1940.5,476.0 1943.1,477.3 1945.3,479.7 1947.1,481.3 1950.1,483.3 1951.7,485.3 1954.9,487.3 1956.4,488.6 1958.4,491.1 1960.9,493.8 1962.8,495.2 1965.4,498.0 1967.1,500.5 1970.2,501.4 1970.0,444.0 1967.8,443.9 1964.0,445.3 1961.5,445.5 1958.7,445.8 1955.0,446.5 1951.4,448.3 1948.6,449.1 1944.9,449.9 1940.7,451.3 1938.2,452.1 1935.2,449.8 1933.2,447.3 1928.2,444.7 1924.8,445.0 1920.8,444.8 1918.6,441.5 1916.8,438.7 1916.0,437.1 1914.1,433.1 1913.4,430.7 1911.8,427.5 1909.3,423.4 1907.3,420.9 1905.7,419.0 1903.5,416.0 1902.7,412.5 1901.1,410.6 1900.5,407.1 1899.2,404.6 1898.6,402.5 1898.0,398.7 1898.4,396.0 1898.3,393.3 1897.6,390.4 1898.7,387.0 1898.8,383.9 1898.5,381.0 1898.5,378.0 1899.6,374.9 1900.1,373.1 1901.3,369.3 1901.8,367.5 1901.3,364.5 1902.3,361.5 1903.5,360.2 1903.9,357.5 1905.2,353.9 1905.0,349.5 1904.6,346.8 1903.7,343.3 1903.3,341.3 1903.9,337.7 1904.3,334.9 1903.9,331.4 1905.6,329.4 1907.5,327.6 1910.0,325.4 1911.7,324.0 1913.7,322.2 1916.5,320.7 1917.8,319.9 1921.5,317.4 1923.8,315.9 1926.9,313.7 1928.2,312.2 1931.5,310.6 1933.2,309.1 1935.0,307.6 1938.1,306.5 1940.4,305.2 1943.5,304.7 1946.7,303.7 1950.7,304.0 1954.5,303.1 1956.9,304.1 1959.1,305.4 1962.2,304.5 1965.4,305.1 1970.0,306.0 1970.0,258.0" fill="#d2b48c" stroke="#000" stroke-width="2.1" stroke-linejoin="round"/>
<path fill="none" stroke="#97b6e1" stroke-width="1.7" stroke-linejoin="round" d="M1703.2 258.0L1702.5 262.5L1698.0 267.0L1695.2 271.0L1698.4 275.3M1757.0 260.5L1762.0 263.5L1768.0 262.5L1772.0 260.5M1788.0 258.0L1790.0 266.0L1794.2 273.3L1794.2 276.4L1800.6 281.8L1810.0 289.3L1815.4 291.8L1818.9 303.0L1834.3 314.1L1842.8 303.0L1854.8 303.0L1865.1 314.1L1877.1 332.1L1882.3 347.5L1892.5 351.8L1904.5 354.4M1889.4 258.0L1899.7 269.1L1908.3 282.8L1917.7 296.6L1918.6 305.1L1923.7 307.7L1926.3 314.6M1809.2 406.9L1817.8 407.5L1826.3 415.0L1832.8 416.0L1839.2 424.6L1833.0 425.0M1868.6 402.4L1875.4 407.5L1885.0 403.5L1897.7 401.5M1958.0 446.5L1961.0 452.0L1965.0 458.0M1655.0 258.0L1668.0 262.0"/>
<path d="M1899.8 359.5L1902.3 360.5L1900.5 372L1898.6 373Z" fill="#5f7795" stroke="#2b3a4d" stroke-width="0.8"/>
<path fill="none" stroke="#000" stroke-width="1.8" stroke-linejoin="round" d="M1767.0 258.0L1767.0 282.8M1794.2 273.3L1836.8 273.3L1836.8 258.0M1945.0 304.2L1946.0 294.8L1948.6 286.3L1945.5 278.0L1942.2 273.4L1942.1 258.0"/>
<path fill="none" stroke="#000" stroke-width="1.4" stroke-dasharray="5.2 2.2" d="M1672.1 266.2L1703.2 262.5L1700.0 266.8L1742.8 282.8L1766.3 282.8L1776.0 282.3L1776.0 277.0L1794.2 276.4L1800.6 281.8L1810.0 289.3L1815.4 291.8L1818.9 303.0L1834.3 314.1L1842.8 303.0L1854.8 303.0L1865.1 314.1L1877.1 332.1L1882.3 347.5L1892.5 351.8L1904.5 354.4"/>
<path fill="none" stroke="#000" stroke-width="1.4" stroke-dasharray="5.2 2.2" d="M1964.3 474L1963.6 484L1964.5 497"/>
<ellipse cx="1658.4" cy="313.4" rx="1.5" ry="2.9" fill="#000"/>
<ellipse cx="1693.6" cy="322.6" rx="1.8" ry="2.6" fill="#000"/>
<ellipse cx="1727.6" cy="313.6" rx="1.6" ry="2.2" fill="#000"/>
<ellipse cx="1744.1" cy="443.5" rx="1.3" ry="1.3" fill="#000"/>
<ellipse cx="1745.8" cy="437.2" rx="0.9" ry="0.9" fill="#000"/>
<ellipse cx="1699.8" cy="449.2" rx="1.0" ry="1.0" fill="#000"/>
<ellipse cx="1650.5" cy="261.5" rx="1.6" ry="1.0" fill="#000"/>
<path d="M1903 339L1904.6 332L1909.7 325.3L1918.3 319.3L1926.5 314.6" fill="none" stroke="#000" stroke-width="3.0" stroke-linejoin="round"/>
<ellipse cx="1932.2" cy="305.6" rx="3.0" ry="2.0" fill="#000"/>
<ellipse cx="1929.2" cy="309.2" rx="2.4" ry="2.0" fill="#000"/>
<ellipse cx="1915.5" cy="318.3" rx="3.2" ry="1.8" fill="#000"/>
<ellipse cx="1911.5" cy="321.5" rx="2.2" ry="1.6" fill="#000"/>
<ellipse cx="1904.2" cy="330.5" rx="2.0" ry="1.6" fill="#000"/>
<ellipse cx="1902.4" cy="335.5" rx="1.6" ry="2.0" fill="#000"/>
<ellipse cx="1944.6" cy="301.6" rx="1.4" ry="2.2" fill="#000"/>
<ellipse cx="1964.5" cy="303.8" rx="1.8" ry="1.8" fill="#000"/>
<path d="M1714.6 307.5L1719.4 316.8" stroke="#000" stroke-width="3.2" stroke-linecap="round"/>
<path d="M1793.9 407.1L1799.9 413.1" stroke="#000" stroke-width="2.5" stroke-linecap="round"/>
<ellipse cx="1746.2" cy="358.5" rx="1.0" ry="1.3" fill="#000"/>
<ellipse cx="1748.3" cy="364.5" rx="1.1" ry="1.6" fill="#000"/>
<ellipse cx="1750.8" cy="372.3" rx="1.2" ry="2.0" fill="#000"/>
<ellipse cx="1757.0" cy="375.6" rx="1.3" ry="2.3" fill="#000"/>
<ellipse cx="1741.3" cy="352.6" rx="0.9" ry="1.2" fill="#000"/>
<path d="M1734.6 342.5L1738.8 349.5M1741.5 357L1745.5 364" stroke="#000" stroke-width="2.6" stroke-linecap="round"/>
<circle cx="1764.2" cy="546.2" r="0.9" fill="#6d7f99"/>
<circle cx="1687.6" cy="366.7" r="0.9" fill="#6d7f99"/>
<circle cx="1962.7" cy="417.5" r="0.9" fill="#6d7f99"/>
<circle cx="1803.5" cy="405.2" r="0.9" fill="#6d7f99"/>
</g>
<path d="M1568.65 259.90V573.30H1966.45V259.90" fill="none" stroke="#000" stroke-width="1.4" stroke-linejoin="miter"/>
<path stroke="#000" stroke-width="3.1" fill="none" d="M1580.35 573.30v9M1580.35 259.90v-9M1638.85 573.30v9M1638.85 259.90v-9M1697.35 573.30v9M1697.35 259.90v-9M1755.85 573.30v9M1755.85 259.90v-9M1814.35 573.30v9M1814.35 259.90v-9M1872.85 573.30v9M1872.85 259.90v-9M1931.35 573.30v9M1931.35 259.90v-9M1568.65 550.50h-9M1966.45 550.50h9M1568.65 490.10h-9M1966.45 490.10h9M1568.65 429.10h-9M1966.45 429.10h9M1568.65 366.40h-9M1966.45 366.40h9M1568.65 301.30h-9M1966.45 301.30h9"/>
<path stroke="#000" stroke-width="1.8" fill="none" d="M1568.65 573.30v3.3M1568.65 259.90v-3.3M1592.05 573.30v3.3M1592.05 259.90v-3.3M1603.75 573.30v3.3M1603.75 259.90v-3.3M1615.45 573.30v3.3M1615.45 259.90v-3.3M1627.15 573.30v3.3M1627.15 259.90v-3.3M1650.55 573.30v3.3M1650.55 259.90v-3.3M1662.25 573.30v3.3M1662.25 259.90v-3.3M1673.95 573.30v3.3M1673.95 259.90v-3.3M1685.65 573.30v3.3M1685.65 259.90v-3.3M1709.05 573.30v3.3M1709.05 259.90v-3.3M1720.75 573.30v3.3M1720.75 259.90v-3.3M1732.45 573.30v3.3M1732.45 259.90v-3.3M1744.15 573.30v3.3M1744.15 259.90v-3.3M1767.55 573.30v3.3M1767.55 259.90v-3.3M1779.25 573.30v3.3M1779.25 259.90v-3.3M1790.95 573.30v3.3M1790.95 259.90v-3.3M1802.65 573.30v3.3M1802.65 259.90v-3.3M1826.05 573.30v3.3M1826.05 259.90v-3.3M1837.75 573.30v3.3M1837.75 259.90v-3.3M1849.45 573.30v3.3M1849.45 259.90v-3.3M1861.15 573.30v3.3M1861.15 259.90v-3.3M1884.55 573.30v3.3M1884.55 259.90v-3.3M1896.25 573.30v3.3M1896.25 259.90v-3.3M1907.95 573.30v3.3M1907.95 259.90v-3.3M1919.65 573.30v3.3M1919.65 259.90v-3.3M1943.05 573.30v3.3M1943.05 259.90v-3.3M1954.75 573.30v3.3M1954.75 259.90v-3.3M1966.45 573.30v3.3M1966.45 259.90v-3.3M1568.65 573.10h-3.3M1966.45 573.10h3.3M1568.65 561.82h-3.3M1966.45 561.82h3.3M1568.65 538.51h-3.3M1966.45 538.51h3.3M1568.65 526.48h-3.3M1966.45 526.48h3.3M1568.65 514.40h-3.3M1966.45 514.40h3.3M1568.65 502.28h-3.3M1966.45 502.28h3.3M1568.65 478.03h-3.3M1966.45 478.03h3.3M1568.65 465.90h-3.3M1966.45 465.90h3.3M1568.65 453.71h-3.3M1966.45 453.71h3.3M1568.65 441.44h-3.3M1966.45 441.44h3.3M1568.65 416.74h-3.3M1966.45 416.74h3.3M1568.65 404.29h-3.3M1966.45 404.29h3.3M1568.65 391.76h-3.3M1966.45 391.76h3.3M1568.65 379.13h-3.3M1966.45 379.13h3.3M1568.65 353.61h-3.3M1966.45 353.61h3.3M1568.65 340.72h-3.3M1966.45 340.72h3.3M1568.65 327.70h-3.3M1966.45 327.70h3.3M1568.65 314.57h-3.3M1966.45 314.57h3.3M1568.65 287.81h-3.3M1966.45 287.81h3.3M1568.65 274.18h-3.3M1966.45 274.18h3.3M1568.65 260.40h-3.3M1966.45 260.40h3.3"/>
<text x="1552.3" y="560.1" font-size="22.2" text-anchor="end">10°N</text>
<text x="1552.3" y="499.7" font-size="22.2" text-anchor="end">15°N</text>
<text x="1552.3" y="438.7" font-size="22.2" text-anchor="end">20°N</text>
<text x="1552.3" y="376.0" font-size="22.2" text-anchor="end">25°N</text>
<text x="1552.3" y="310.9" font-size="22.2" text-anchor="end">30°N</text>
<text font-size="22.2" text-anchor="middle" transform="translate(1578.4 624.7) rotate(-45)" y="8.1">125°W</text>
<text font-size="22.2" text-anchor="middle" transform="translate(1636.9 624.7) rotate(-45)" y="8.1">120°W</text>
<text font-size="22.2" text-anchor="middle" transform="translate(1695.4 624.7) rotate(-45)" y="8.1">115°W</text>
<text font-size="22.2" text-anchor="middle" transform="translate(1753.9 624.7) rotate(-45)" y="8.1">110°W</text>
<text font-size="22.2" text-anchor="middle" transform="translate(1812.4 624.7) rotate(-45)" y="8.1">105°W</text>
<text font-size="22.2" text-anchor="middle" transform="translate(1870.9 624.7) rotate(-45)" y="8.1">100°W</text>
<text font-size="22.2" text-anchor="middle" transform="translate(1929.4 624.7) rotate(-45)" y="8.1">95°W</text>
</g>
<g id="legend">
<rect x="1685.1" y="657.7" width="163.8" height="144.2" rx="4" ry="4" fill="#fff" fill-opacity="0.8" stroke="#cccccc" stroke-width="1.4"/>
<path d="M1694.5 677.4H1739.3" stroke="#0000ff" stroke-width="2.8" stroke-linecap="square"/>
<circle cx="1716.8" cy="677.4" r="5.9" fill="#0000ff"/>
<text x="1756.6" y="685.6" font-size="22.6">sp040</text>
<path d="M1694.5 712.2H1739.3" stroke="#ff0000" stroke-width="2.8" stroke-linecap="square"/>
<circle cx="1716.8" cy="712.2" r="5.9" fill="#ff0000"/>
<text x="1756.6" y="720.2" font-size="22.6">RTOFS</text>
<path d="M1694.5 746.4H1739.3" stroke="#008000" stroke-width="2.8" stroke-linecap="square"/>
<circle cx="1716.8" cy="746.4" r="5.9" fill="#008000"/>
<text x="1756.6" y="754.5" font-size="22.6">ESPC</text>
<path d="M1694.5 780.5H1739.3" stroke="#ff00ff" stroke-width="2.8" stroke-linecap="square"/>
<circle cx="1716.8" cy="780.5" r="5.9" fill="#ff00ff"/>
<text x="1756.6" y="788.4" font-size="22.6">CMEMS</text>
</g>
</svg></body></html>
